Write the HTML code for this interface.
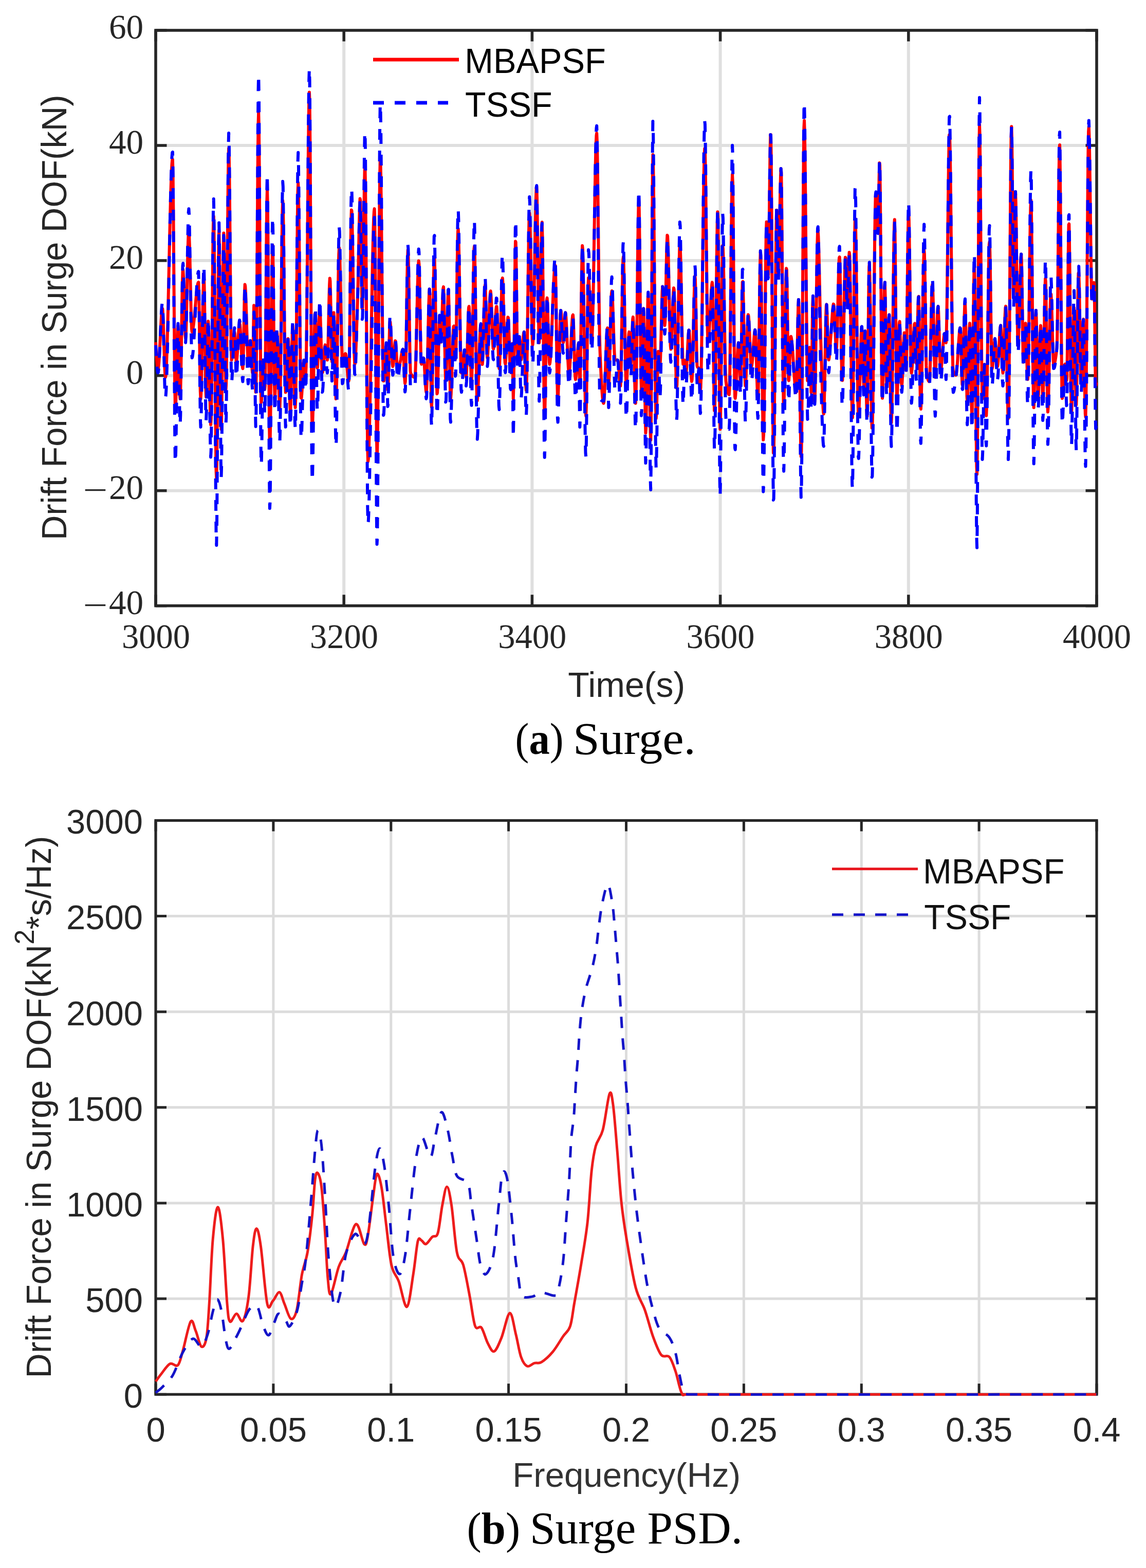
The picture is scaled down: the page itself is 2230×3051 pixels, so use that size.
<!DOCTYPE html><html><head><meta charset="utf-8"><title>Surge drift force</title><style>html,body{margin:0;padding:0;background:#fff;}svg{display:block;}</style></head><body>
<svg width="2230" height="3051" viewBox="0 0 2230 3051">
<rect width="2230" height="3051" fill="#fff"/>
<path d="M669.2 59.0V1178.7M1035.4 59.0V1178.7M1401.6 59.0V1178.7M1767.8 59.0V1178.7M303.0 282.9H2134.0M303.0 506.9H2134.0M303.0 730.8H2134.0M303.0 954.8H2134.0" stroke="#dfdfdf" stroke-width="6" fill="none"/>
<path d="M303.0 1178.7v-21.5M303.0 59.0v21.5M669.2 1178.7v-21.5M669.2 59.0v21.5M1035.4 1178.7v-21.5M1035.4 59.0v21.5M1401.6 1178.7v-21.5M1401.6 59.0v21.5M1767.8 1178.7v-21.5M1767.8 59.0v21.5M2134.0 1178.7v-21.5M2134.0 59.0v21.5M303.0 1178.7h21.5M2134.0 1178.7h-21.5M303.0 954.8h21.5M2134.0 954.8h-21.5M303.0 730.8h21.5M2134.0 730.8h-21.5M303.0 506.9h21.5M2134.0 506.9h-21.5M303.0 282.9h21.5M2134.0 282.9h-21.5M303.0 59.0h21.5M2134.0 59.0h-21.5" stroke="#262626" stroke-width="5.5" fill="none"/>
<rect x="303.0" y="59.0" width="1831.0" height="1119.7" stroke="#262626" stroke-width="5.6" fill="none"/>
<defs><clipPath id="clipA"><rect x="300.0" y="56.0" width="1837.0" height="1125.7"/></clipPath></defs>
<g clip-path="url(#clipA)">
<path d="M303.0 665.9 303.7 679.6 304.4 691.5 305.1 701.3 305.8 708.9 306.5 714.2 307.2 717.0 307.9 716.9 308.6 712.6 309.3 704.5 310.0 693.6 310.7 680.7 311.4 666.4 312.1 651.8 312.8 637.5 313.5 624.4 314.2 613.3 314.9 605.0 315.6 600.3 316.3 600.7 317.0 610.2 317.7 627.1 318.4 648.9 319.1 672.7 319.8 695.8 320.5 715.6 321.2 729.3 321.9 734.2 322.6 730.9 323.3 721.7 324.0 707.4 324.7 688.6 325.4 666.0 326.1 640.2 326.8 611.8 327.5 581.5 328.2 550.1 328.9 518.0 329.6 486.0 330.3 454.8 331.0 424.9 331.7 397.1 332.4 371.9 333.1 350.1 333.8 332.3 334.5 319.2 335.2 311.3 335.9 310.3 336.6 340.4 337.3 403.7 338.0 487.9 338.7 580.9 339.4 670.2 340.1 743.6 340.8 788.8 341.5 796.0 342.2 781.4 342.9 755.3 343.6 722.7 344.3 689.0 345.0 659.4 345.7 639.2 346.4 633.6 347.1 647.5 347.8 675.9 348.5 710.9 349.2 744.5 349.9 768.8 350.6 776.0 351.3 761.1 352.0 728.8 352.7 685.5 353.4 637.5 354.1 591.2 354.8 552.8 355.5 528.8 356.2 524.8 356.9 536.3 357.6 557.5 358.3 584.1 359.0 611.8 359.7 636.3 360.4 653.2 361.1 658.3 361.8 649.2 362.5 628.5 363.2 599.7 363.9 566.1 364.6 531.3 365.3 498.6 366.0 471.6 366.7 453.7 367.4 448.3 368.1 456.6 368.8 476.0 369.5 503.0 370.2 534.5 370.9 567.2 371.6 598.0 372.3 623.5 373.0 640.5 373.7 645.9 374.4 644.8 375.1 642.2 375.8 638.2 376.5 633.1 377.2 627.0 377.9 620.1 378.6 612.6 379.3 604.7 380.0 596.7 380.7 588.7 381.4 580.9 382.1 573.5 382.8 566.8 383.5 560.8 384.2 555.9 384.9 552.2 385.6 549.8 386.3 549.2 387.0 568.5 387.7 612.0 388.4 667.0 389.1 721.1 389.8 761.7 390.5 776.2 391.2 766.9 391.9 744.1 392.6 711.8 393.3 673.7 394.0 634.0 394.7 596.5 395.4 565.1 396.1 543.8 396.8 536.6 397.5 555.8 398.2 600.4 398.9 657.3 399.6 713.6 400.3 756.2 401.0 772.1 401.7 760.2 402.4 732.5 403.1 696.9 403.8 661.7 404.5 635.0 405.2 624.9 405.9 636.1 406.6 664.0 407.3 702.1 408.0 743.8 408.7 782.7 409.4 812.4 410.1 826.4 410.8 814.2 411.5 770.7 412.2 706.0 412.9 630.2 413.6 553.6 414.3 486.3 415.0 438.7 415.7 420.8 416.4 444.3 417.1 505.0 417.8 590.1 418.5 686.7 419.2 781.9 419.9 862.9 420.6 916.9 421.3 930.9 422.0 896.3 422.7 824.5 423.4 730.9 424.1 631.0 424.8 540.2 425.5 474.1 426.2 448.1 426.9 476.0 427.6 547.0 428.3 639.9 429.0 733.1 429.7 805.3 430.4 835.2 431.1 816.0 431.8 764.7 432.5 693.4 433.2 614.4 433.9 539.9 434.6 482.2 435.3 453.5 436.0 466.0 436.7 516.2 437.4 587.5 438.1 662.9 438.8 725.4 439.5 758.0 440.2 747.1 440.9 698.9 441.6 625.1 442.3 537.6 443.0 448.4 443.7 369.2 444.4 311.9 445.1 288.4 445.8 304.8 446.5 352.0 447.2 419.6 447.9 497.2 448.6 574.4 449.3 640.9 450.0 686.3 450.7 700.5 451.4 697.9 452.1 691.8 452.8 683.5 453.5 674.0 454.2 664.4 454.9 655.8 455.6 649.3 456.3 646.1 457.0 649.4 457.7 663.0 458.4 681.0 459.1 697.0 459.8 704.7 460.5 702.6 461.2 696.0 461.9 686.2 462.6 674.4 463.3 661.9 464.0 649.8 464.7 639.5 465.4 632.2 466.1 629.1 466.8 631.5 467.5 639.1 468.2 650.5 468.9 664.2 469.6 678.9 470.3 692.9 471.0 705.0 471.7 713.6 472.4 717.3 473.1 707.9 473.8 679.4 474.5 640.6 475.2 600.7 475.9 568.6 476.6 553.6 477.3 557.1 478.0 569.6 478.7 588.5 479.4 611.3 480.1 635.7 480.8 659.2 481.5 679.5 482.2 694.0 482.9 700.4 483.6 698.5 484.3 692.0 485.0 683.1 485.7 673.8 486.4 666.4 487.1 662.8 487.8 666.1 488.5 676.8 489.2 691.7 489.9 707.1 490.6 719.6 491.3 725.7 492.0 712.1 492.7 671.5 493.4 624.9 494.1 594.2 494.8 599.2 495.5 637.0 496.2 689.3 496.9 737.5 497.6 762.9 498.3 747.0 499.0 688.7 499.7 601.7 500.4 499.6 501.1 396.4 501.8 305.6 502.5 241.2 503.2 216.8 503.9 246.7 504.6 323.9 505.3 430.3 506.0 547.5 506.7 657.6 507.4 742.2 508.1 783.3 508.8 780.7 509.5 766.7 510.2 747.1 510.9 726.5 511.6 709.5 512.3 700.9 513.0 705.9 513.7 723.3 514.4 743.8 515.1 757.8 515.8 751.0 516.5 702.9 517.2 626.4 517.9 538.2 518.6 454.8 519.3 392.6 520.0 368.2 520.7 394.6 521.4 463.2 522.1 557.6 522.8 661.8 523.5 759.7 524.2 835.1 524.9 871.8 525.6 861.8 526.3 820.4 527.0 757.9 527.7 684.3 528.4 609.5 529.1 543.5 529.8 496.2 530.5 477.6 531.2 498.6 531.9 553.2 532.6 624.7 533.3 696.7 534.0 752.8 534.7 776.3 535.4 767.3 536.1 743.6 536.8 712.4 537.5 680.9 538.2 656.3 538.9 645.9 539.6 651.9 540.3 668.9 541.0 693.1 541.7 720.9 542.4 748.4 543.1 772.1 543.8 788.2 544.5 792.8 545.2 772.8 545.9 727.9 546.6 666.2 547.3 595.9 548.0 525.0 548.7 461.7 549.4 414.1 550.1 390.5 550.8 398.4 551.5 436.1 552.2 494.3 552.9 563.6 553.6 634.7 554.3 697.9 555.0 744.0 555.7 763.5 556.4 759.0 557.1 745.4 557.8 726.0 558.5 704.3 559.2 683.7 559.9 667.5 560.6 659.0 561.3 663.9 562.0 686.4 562.7 719.3 563.4 754.5 564.1 784.2 564.8 800.5 565.5 796.4 566.2 774.1 566.9 740.5 567.6 702.7 568.3 667.5 569.0 642.1 569.7 633.3 570.4 643.0 571.1 665.5 571.8 695.9 572.5 728.9 573.2 759.5 573.9 782.6 574.6 793.0 575.3 778.0 576.0 729.9 576.7 659.4 577.4 577.4 578.1 495.0 578.8 423.3 579.5 373.2 580.2 355.6 580.9 373.9 581.6 418.7 582.3 481.9 583.0 554.7 583.7 628.8 584.4 695.8 585.1 747.0 585.8 774.1 586.5 774.8 587.2 767.6 587.9 756.2 588.6 742.2 589.3 727.8 590.0 714.8 590.7 705.1 591.4 700.7 592.1 702.9 592.8 710.1 593.5 719.2 594.2 726.9 594.9 730.0 595.6 714.6 596.3 673.8 597.0 613.9 597.7 541.0 598.4 461.4 599.1 381.3 599.8 306.8 600.5 244.3 601.2 199.7 601.9 179.5 602.6 198.4 603.3 267.8 604.0 372.0 604.7 494.3 605.4 618.3 606.1 727.5 606.8 805.3 607.5 835.2 608.2 826.5 608.9 803.0 609.6 769.4 610.3 730.3 611.0 690.2 611.7 653.6 612.4 625.3 613.1 609.7 613.8 610.9 614.5 626.7 615.2 651.1 615.9 678.2 616.6 701.7 617.3 715.8 618.0 714.9 618.7 700.6 619.4 677.9 620.1 651.5 620.8 626.4 621.5 607.5 622.2 599.6 622.9 605.7 623.6 622.4 624.3 645.9 625.0 671.9 625.7 696.5 626.4 715.7 627.1 725.3 627.8 724.4 628.5 718.8 629.2 710.3 629.9 700.1 630.6 689.8 631.3 680.6 632.0 673.9 632.7 671.1 633.4 673.0 634.1 678.3 634.8 685.3 635.5 692.4 636.2 698.1 636.9 700.5 637.6 693.4 638.3 672.5 639.0 643.1 639.7 610.1 640.4 578.8 641.1 554.2 641.8 541.4 642.5 547.0 643.2 573.0 643.9 610.7 644.6 651.1 645.3 685.1 646.0 703.6 646.7 699.2 647.4 677.0 648.1 647.5 648.8 621.0 649.5 608.2 650.2 618.0 650.9 647.6 651.6 687.4 652.3 728.3 653.0 761.0 653.7 776.1 654.4 768.4 655.1 743.1 655.8 705.2 656.5 659.5 657.2 610.7 657.9 563.7 658.6 523.4 659.3 494.6 660.0 482.0 660.7 487.5 661.4 506.1 662.1 534.1 662.8 568.1 663.5 604.3 664.2 639.2 664.9 669.2 665.6 690.8 666.3 700.4 667.0 700.2 667.7 699.0 668.4 697.2 669.1 695.0 669.8 692.8 670.5 690.7 671.2 689.1 671.9 688.1 672.6 688.3 673.3 691.7 674.0 697.8 674.7 705.7 675.4 714.7 676.1 723.6 676.8 731.8 677.5 738.2 678.2 742.0 678.9 739.8 679.6 713.2 680.3 665.6 681.0 605.4 681.7 541.1 682.4 481.2 683.1 434.2 683.8 408.5 684.5 410.1 685.2 431.6 685.9 467.6 686.6 512.9 687.3 562.7 688.0 612.0 688.7 655.8 689.4 689.2 690.1 707.2 690.8 707.7 691.5 700.6 692.2 688.2 692.9 671.6 693.6 652.0 694.3 630.7 695.0 608.7 695.7 587.2 696.4 563.6 697.1 531.9 697.8 495.8 698.5 459.2 699.2 426.2 699.9 400.6 700.6 386.6 701.3 390.6 702.0 422.1 702.7 470.9 703.4 525.0 704.1 572.2 704.8 600.5 705.5 599.0 706.2 569.9 706.9 522.4 707.6 465.5 708.3 408.2 709.0 359.5 709.7 328.4 710.4 324.8 711.1 361.6 711.8 431.6 712.5 523.2 713.2 624.7 713.9 724.6 714.6 811.2 715.3 872.9 716.0 898.2 716.7 894.5 717.4 882.5 718.1 863.4 718.8 838.2 719.5 807.8 720.2 773.4 720.9 735.8 721.6 696.2 722.3 655.5 723.0 614.6 723.7 574.7 724.4 536.8 725.1 501.8 725.8 470.7 726.5 444.6 727.2 424.5 727.9 411.3 728.6 406.1 729.3 427.0 730.0 489.5 730.7 578.3 731.4 678.0 732.1 773.0 732.8 848.0 733.5 887.3 734.2 880.0 734.9 835.7 735.6 764.5 736.3 676.0 737.0 579.8 737.7 485.6 738.4 403.0 739.1 341.6 739.8 311.0 740.5 317.0 741.2 350.4 741.9 403.5 742.6 469.4 743.3 540.9 744.0 610.9 744.7 672.4 745.4 718.2 746.1 741.2 746.8 741.2 747.5 735.0 748.2 725.2 748.9 713.6 749.6 701.6 750.3 690.9 751.0 683.0 751.7 679.6 752.4 688.7 753.1 713.3 753.8 740.8 754.5 758.1 755.2 754.7 755.9 733.8 756.6 703.0 757.3 669.9 758.0 641.7 758.7 626.0 759.4 626.7 760.1 635.2 760.8 648.7 761.5 665.0 762.2 681.8 762.9 696.9 763.6 708.1 764.3 713.1 765.0 711.2 765.7 704.9 766.4 695.7 767.1 685.3 767.8 675.3 768.5 667.4 769.2 663.1 769.9 664.6 770.6 673.5 771.3 686.9 772.0 701.4 772.7 713.9 773.4 721.0 774.1 721.4 774.8 720.2 775.5 718.2 776.2 715.5 776.9 712.6 777.6 709.4 778.3 706.4 779.0 703.5 779.7 700.0 780.4 695.9 781.1 691.6 781.8 687.4 782.5 683.8 783.2 681.1 783.9 679.7 784.6 681.5 785.3 691.4 786.0 706.6 786.7 723.2 787.4 737.6 788.1 746.0 788.8 742.5 789.5 718.5 790.2 679.4 790.9 631.8 791.6 582.1 792.3 536.9 793.0 502.9 793.7 486.6 794.4 493.8 795.1 522.4 795.8 564.8 796.5 613.5 797.2 661.1 797.9 700.0 798.6 722.8 799.3 726.6 800.0 728.0 800.7 729.2 801.4 730.2 802.1 731.1 802.8 731.9 803.5 732.6 804.2 733.2 804.9 733.6 805.6 733.9 806.3 734.1 807.0 734.2 807.7 732.5 808.4 721.5 809.1 702.2 809.8 676.8 810.5 647.3 811.2 616.0 811.9 585.1 812.6 556.6 813.3 532.7 814.0 515.6 814.7 507.4 815.4 512.9 816.1 536.5 816.8 572.2 817.5 613.5 818.2 653.9 818.9 687.1 819.6 706.5 820.3 708.7 821.0 707.0 821.7 704.2 822.4 701.0 823.1 698.3 823.8 696.6 824.5 697.2 825.2 703.0 825.9 712.8 826.6 725.0 827.3 737.8 828.0 749.6 828.7 758.7 829.4 763.4 830.1 760.2 830.8 744.8 831.5 720.1 832.2 689.5 832.9 656.2 833.6 623.5 834.3 594.8 835.0 573.3 835.7 562.4 836.4 572.0 837.1 615.2 837.8 676.3 838.5 737.7 839.2 781.8 839.9 792.0 840.6 772.1 841.3 732.6 842.0 681.1 842.7 624.9 843.4 571.5 844.1 528.3 844.8 502.6 845.5 501.4 846.2 523.5 846.9 562.1 847.6 610.5 848.3 661.9 849.0 709.5 849.7 746.6 850.4 766.3 851.1 764.3 851.8 747.1 852.5 720.2 853.2 688.6 853.9 657.1 854.6 630.9 855.3 614.9 856.0 615.4 856.7 637.9 857.4 661.8 858.1 665.8 858.8 655.6 859.5 637.9 860.2 616.1 860.9 593.7 861.6 574.2 862.3 561.1 863.0 558.1 863.7 574.2 864.4 606.2 865.1 646.6 865.8 687.6 866.5 721.6 867.2 740.8 867.9 738.9 868.6 719.6 869.3 688.6 870.0 652.0 870.7 615.3 871.4 584.5 872.1 565.3 872.8 564.5 873.5 591.2 874.2 637.1 874.9 690.0 875.6 738.3 876.3 770.1 877.0 775.5 877.7 767.1 878.4 751.5 879.1 730.8 879.8 707.6 880.5 684.0 881.2 662.6 881.9 645.5 882.6 635.2 883.3 634.4 884.0 646.6 884.7 666.3 885.4 686.2 886.1 699.0 886.8 696.1 887.5 669.5 888.2 626.2 888.9 574.3 889.6 522.2 890.3 477.9 891.0 449.7 891.7 445.2 892.4 461.1 893.1 491.6 893.8 532.0 894.5 577.7 895.2 624.2 895.9 666.7 896.6 700.7 897.3 721.5 898.0 725.6 898.7 723.3 899.4 718.8 900.1 712.8 900.8 705.9 901.5 699.0 902.2 692.6 902.9 687.6 903.6 684.4 904.3 684.6 905.0 695.6 905.7 713.0 906.4 728.5 907.1 734.1 907.8 726.5 908.5 709.1 909.2 685.5 909.9 659.2 910.6 633.5 911.3 612.2 912.0 598.5 912.7 596.2 913.4 608.1 914.1 630.9 914.8 659.8 915.5 690.2 916.2 717.2 916.9 736.2 917.6 742.5 918.3 728.5 919.0 695.8 919.7 650.9 920.4 600.6 921.1 551.6 921.8 510.5 922.5 483.9 923.2 478.7 923.9 499.3 924.6 539.9 925.3 592.9 926.0 650.7 926.7 705.6 927.4 750.1 928.1 776.5 928.8 779.6 929.5 772.1 930.2 758.6 930.9 740.6 931.6 719.8 932.3 698.0 933.0 676.7 933.7 657.8 934.4 642.8 935.1 633.4 935.8 631.9 936.5 647.7 937.2 674.1 937.9 698.7 938.6 709.0 939.3 701.4 940.0 682.6 940.7 656.5 941.4 627.1 942.1 598.1 942.8 573.7 943.5 557.6 944.2 553.9 944.9 568.9 945.6 597.8 946.3 632.9 947.0 666.2 947.7 689.8 948.4 696.1 949.1 689.8 949.8 676.5 950.5 658.3 951.2 637.4 951.9 615.8 952.6 595.8 953.3 579.4 954.0 568.8 954.7 566.2 955.4 573.3 956.1 588.2 956.8 607.9 957.5 629.7 958.2 650.5 958.9 667.5 959.6 677.8 960.3 679.0 961.0 673.9 961.7 664.5 962.4 652.3 963.1 638.6 963.8 624.7 964.5 612.2 965.2 602.3 965.9 596.4 966.6 596.5 967.3 607.6 968.0 627.2 968.7 651.5 969.4 676.5 970.1 698.4 970.8 713.2 971.5 717.1 972.2 708.8 972.9 690.9 973.6 666.4 974.3 638.0 975.0 608.8 975.7 581.6 976.4 559.3 977.1 544.8 977.8 541.0 978.5 551.2 979.2 572.9 979.9 601.8 980.6 633.9 981.3 664.7 982.0 690.1 982.7 705.9 983.4 708.4 984.1 701.4 984.8 688.5 985.5 672.1 986.2 654.4 986.9 637.9 987.6 624.7 988.3 617.3 989.0 618.3 989.7 629.6 990.4 648.0 991.1 670.1 991.8 692.3 992.5 711.2 993.2 723.3 993.9 724.9 994.6 714.5 995.3 697.4 996.0 679.9 996.7 668.4 997.4 681.0 998.1 744.1 998.8 775.9 999.5 751.8 1000.2 699.7 1000.9 632.5 1001.6 563.1 1002.3 504.5 1003.0 469.5 1003.7 471.1 1004.4 509.8 1005.1 569.2 1005.8 631.7 1006.5 679.9 1007.2 696.3 1007.9 690.6 1008.6 679.1 1009.3 666.2 1010.0 656.6 1010.7 654.8 1011.4 662.7 1012.1 676.1 1012.8 689.9 1013.5 699.2 1014.2 700.0 1014.9 696.0 1015.6 688.9 1016.3 680.0 1017.0 670.4 1017.7 661.0 1018.4 653.1 1019.1 647.7 1019.8 645.9 1020.5 655.7 1021.2 677.4 1021.9 705.0 1022.6 732.0 1023.3 752.2 1024.0 759.4 1024.7 745.9 1025.4 713.0 1026.1 666.3 1026.8 611.6 1027.5 554.5 1028.2 500.5 1028.9 455.5 1029.6 424.9 1030.3 414.5 1031.0 424.3 1031.7 448.6 1032.4 483.2 1033.1 523.8 1033.8 566.4 1034.5 606.5 1035.2 640.2 1035.9 663.1 1036.6 671.1 1037.3 663.0 1038.0 642.1 1038.7 611.3 1039.4 573.7 1040.1 532.0 1040.8 489.3 1041.5 448.4 1042.2 412.4 1042.9 384.0 1043.6 366.4 1044.3 362.8 1045.0 385.5 1045.7 431.3 1046.4 490.6 1047.1 553.5 1047.8 610.4 1048.5 651.5 1049.2 666.9 1049.9 656.0 1050.6 627.9 1051.3 588.6 1052.0 544.1 1052.7 500.2 1053.4 462.9 1054.1 438.2 1054.8 432.2 1055.5 459.5 1056.2 515.8 1056.9 589.1 1057.6 667.3 1058.3 738.2 1059.0 789.8 1059.7 809.9 1060.4 795.9 1061.1 759.6 1061.8 710.7 1062.5 658.7 1063.2 613.4 1063.9 584.3 1064.6 579.6 1065.3 591.1 1066.0 611.8 1066.7 637.7 1067.4 664.5 1068.1 688.0 1068.8 704.2 1069.5 708.9 1070.2 705.9 1070.9 698.8 1071.6 688.3 1072.3 675.0 1073.0 659.5 1073.7 642.3 1074.4 624.1 1075.1 605.6 1075.8 587.3 1076.5 569.8 1077.2 553.7 1077.9 539.7 1078.6 528.3 1079.3 520.2 1080.0 515.9 1080.7 519.7 1081.4 546.2 1082.1 589.9 1082.8 642.5 1083.5 695.6 1084.2 740.9 1084.9 770.0 1085.6 775.5 1086.3 764.7 1087.0 743.9 1087.7 716.6 1088.4 686.2 1089.1 656.3 1089.8 630.3 1090.5 611.6 1091.2 603.9 1091.9 607.1 1092.6 616.6 1093.3 629.8 1094.0 644.0 1094.7 656.6 1095.4 665.0 1096.1 666.5 1096.8 659.8 1097.5 647.5 1098.2 633.0 1098.9 619.5 1099.6 610.2 1100.3 608.3 1101.0 613.2 1101.7 623.2 1102.4 636.9 1103.1 653.0 1103.8 670.2 1104.5 687.1 1105.2 702.4 1105.9 714.9 1106.6 723.1 1107.3 725.8 1108.0 722.6 1108.7 714.8 1109.4 703.4 1110.1 689.5 1110.8 674.2 1111.5 658.5 1112.2 643.5 1112.9 630.4 1113.6 620.1 1114.3 613.7 1115.0 612.7 1115.7 622.4 1116.4 641.7 1117.1 666.3 1117.8 692.3 1118.5 715.7 1119.2 732.4 1119.9 738.4 1120.6 735.7 1121.3 729.0 1122.0 719.4 1122.7 708.1 1123.4 696.2 1124.1 685.0 1124.8 675.6 1125.5 669.2 1126.2 666.9 1126.9 690.0 1127.6 730.4 1128.3 751.0 1129.0 735.9 1129.7 698.3 1130.4 646.8 1131.1 590.3 1131.8 537.6 1132.5 497.2 1133.2 478.1 1133.9 484.4 1134.6 508.7 1135.3 546.5 1136.0 593.1 1136.7 644.3 1137.4 695.3 1138.1 741.9 1138.8 779.4 1139.5 803.5 1140.2 809.3 1140.9 790.0 1141.6 750.0 1142.3 697.9 1143.0 642.3 1143.7 591.8 1144.4 555.1 1145.1 540.7 1145.8 544.8 1146.5 555.9 1147.2 572.1 1147.9 591.2 1148.6 611.4 1149.3 630.7 1150.0 647.0 1150.7 658.3 1151.4 662.7 1152.1 657.0 1152.8 640.3 1153.5 614.6 1154.2 581.7 1154.9 543.4 1155.6 501.6 1156.3 458.0 1157.0 414.5 1157.7 373.0 1158.4 335.3 1159.1 303.2 1159.8 278.6 1160.5 263.2 1161.2 259.1 1161.9 275.5 1162.6 312.6 1163.3 364.9 1164.0 426.7 1164.7 492.4 1165.4 556.4 1166.1 613.0 1166.8 656.6 1167.5 681.9 1168.2 698.5 1168.9 714.3 1169.6 728.9 1170.3 742.3 1171.0 754.3 1171.7 764.5 1172.4 772.9 1173.1 779.2 1173.8 783.2 1174.5 784.7 1175.2 781.7 1175.9 772.4 1176.6 758.2 1177.3 740.5 1178.0 720.7 1178.7 700.3 1179.4 680.6 1180.1 663.1 1180.8 649.1 1181.5 640.1 1182.2 638.2 1182.9 674.0 1183.6 728.1 1184.3 750.9 1185.0 743.0 1185.7 724.9 1186.4 699.5 1187.1 670.0 1187.8 639.4 1188.5 610.6 1189.2 586.8 1189.9 570.9 1190.6 566.0 1191.3 571.6 1192.0 584.7 1192.7 603.1 1193.4 624.5 1194.1 646.8 1194.8 667.8 1195.5 685.2 1196.2 696.8 1196.9 700.6 1197.6 700.6 1198.3 700.6 1199.0 700.6 1199.7 700.6 1200.4 700.6 1201.1 700.6 1201.8 700.6 1202.5 702.4 1203.2 708.0 1203.9 716.2 1204.6 725.7 1205.3 735.1 1206.0 743.4 1206.7 749.1 1207.4 751.0 1208.1 738.0 1208.8 707.0 1209.5 664.4 1210.2 616.5 1210.9 569.8 1211.6 530.4 1212.3 504.9 1213.0 499.4 1213.7 514.0 1214.4 543.7 1215.1 583.2 1215.8 627.5 1216.5 671.4 1217.2 710.1 1217.9 738.2 1218.6 750.8 1219.3 747.6 1220.0 736.1 1220.7 719.3 1221.4 699.6 1222.1 679.8 1222.8 662.4 1223.5 650.3 1224.2 645.9 1224.9 653.4 1225.6 670.3 1226.3 689.6 1227.0 704.6 1227.7 708.6 1228.4 698.9 1229.1 680.2 1229.8 657.5 1230.5 636.0 1231.2 620.7 1231.9 616.9 1232.6 629.2 1233.3 654.4 1234.0 687.1 1234.7 721.9 1235.4 753.3 1236.1 776.0 1236.8 784.7 1237.5 771.0 1238.2 734.6 1238.9 682.0 1239.6 619.7 1240.3 554.2 1241.0 491.9 1241.7 439.3 1242.4 402.9 1243.1 389.2 1243.8 408.4 1244.5 458.5 1245.2 527.6 1245.9 604.1 1246.6 675.9 1247.3 731.3 1248.0 758.5 1248.7 752.1 1249.4 725.7 1250.1 688.4 1250.8 649.2 1251.5 616.9 1252.2 600.3 1252.9 610.6 1253.6 650.7 1254.3 707.4 1255.0 767.3 1255.7 816.8 1256.4 842.5 1257.1 833.6 1257.8 795.7 1258.5 740.3 1259.2 678.8 1259.9 622.4 1260.6 582.5 1261.3 570.5 1262.0 589.7 1262.7 631.3 1263.4 686.2 1264.1 745.3 1264.8 799.5 1265.5 839.4 1266.2 856.2 1266.9 819.8 1267.6 720.2 1268.3 587.8 1269.0 453.4 1269.7 347.6 1270.4 301.1 1271.1 316.1 1271.8 361.3 1272.5 428.2 1273.2 508.3 1273.9 593.4 1274.6 674.9 1275.3 744.4 1276.0 793.6 1276.7 814.0 1277.4 806.0 1278.1 782.9 1278.8 751.9 1279.5 720.3 1280.2 695.2 1280.9 683.8 1281.6 686.1 1282.3 692.5 1283.0 700.2 1283.7 706.6 1284.4 708.9 1285.1 699.6 1285.8 678.1 1286.5 649.2 1287.2 617.9 1287.9 589.0 1288.6 567.3 1289.3 557.6 1290.0 562.0 1290.7 575.2 1291.4 593.1 1292.1 611.5 1292.8 626.3 1293.5 633.2 1294.2 626.1 1294.9 603.7 1295.6 571.5 1296.3 535.1 1297.0 500.2 1297.7 472.6 1298.4 457.7 1299.1 459.6 1299.8 474.2 1300.5 498.3 1301.2 528.9 1301.9 563.0 1302.6 597.4 1303.3 629.3 1304.0 655.6 1304.7 673.4 1305.4 679.5 1306.1 674.4 1306.8 661.7 1307.5 643.8 1308.2 623.0 1308.9 601.9 1309.6 582.8 1310.3 568.1 1311.0 560.3 1311.7 563.3 1312.4 581.7 1313.1 611.3 1313.8 647.1 1314.5 684.4 1315.2 718.0 1315.9 743.2 1316.6 754.9 1317.3 748.7 1318.0 725.5 1318.7 689.8 1319.4 646.4 1320.1 599.8 1320.8 554.6 1321.5 515.4 1322.2 487.0 1322.9 473.8 1323.6 478.7 1324.3 497.9 1325.0 527.6 1325.7 563.8 1326.4 602.8 1327.1 640.6 1327.8 673.4 1328.5 697.4 1329.2 708.6 1329.9 708.2 1330.6 705.7 1331.3 702.8 1332.0 700.8 1332.7 702.3 1333.4 710.9 1334.1 720.9 1334.8 725.8 1335.5 722.7 1336.2 714.1 1336.9 701.7 1337.6 687.2 1338.3 672.3 1339.0 658.8 1339.7 648.2 1340.4 642.3 1341.1 643.2 1341.8 652.2 1342.5 667.1 1343.2 685.5 1343.9 704.7 1344.6 722.3 1345.3 735.7 1346.0 742.3 1346.7 738.6 1347.4 722.4 1348.1 696.8 1348.8 665.3 1349.5 631.3 1350.2 598.1 1350.9 569.0 1351.6 547.5 1352.3 537.0 1353.0 543.6 1353.7 571.5 1354.4 611.8 1355.1 654.9 1355.8 691.4 1356.5 711.7 1357.2 714.1 1357.9 714.9 1358.6 715.4 1359.3 716.1 1360.0 717.3 1360.7 723.4 1361.4 736.6 1362.1 750.5 1362.8 758.9 1363.5 754.7 1364.2 733.6 1364.9 698.5 1365.6 652.6 1366.3 599.2 1367.0 541.6 1367.7 483.0 1368.4 426.6 1369.1 375.8 1369.8 333.8 1370.5 303.9 1371.2 289.2 1371.9 294.6 1372.6 323.2 1373.3 369.2 1374.0 426.6 1374.7 489.0 1375.4 550.3 1376.1 604.3 1376.8 644.7 1377.5 665.5 1378.2 665.8 1378.9 660.7 1379.6 652.0 1380.3 640.6 1381.0 627.3 1381.7 612.9 1382.4 598.3 1383.1 584.2 1383.8 571.4 1384.5 560.8 1385.2 553.2 1385.9 549.4 1386.6 557.4 1387.3 595.9 1388.0 653.3 1388.7 715.6 1389.4 768.8 1390.1 799.0 1390.8 795.8 1391.5 767.2 1392.2 720.3 1392.9 661.4 1393.6 597.0 1394.3 533.5 1395.0 477.2 1395.7 434.7 1396.4 412.2 1397.1 421.2 1397.8 475.6 1398.5 559.8 1399.2 655.7 1399.9 745.6 1400.6 811.3 1401.3 835.1 1402.0 814.5 1402.7 764.7 1403.4 697.1 1404.1 623.2 1404.8 554.5 1405.5 502.3 1406.2 478.1 1406.9 483.7 1407.6 504.7 1408.3 536.9 1409.0 576.2 1409.7 618.7 1410.4 660.4 1411.1 697.5 1411.8 725.8 1412.5 741.5 1413.2 746.7 1413.9 751.3 1414.6 755.3 1415.3 758.9 1416.0 761.9 1416.7 764.4 1417.4 766.2 1418.1 767.4 1418.8 767.9 1419.5 758.1 1420.2 722.8 1420.9 668.7 1421.6 602.6 1422.3 531.6 1423.0 462.8 1423.7 403.1 1424.4 359.6 1425.1 339.4 1425.8 353.6 1426.5 406.7 1427.2 485.2 1427.9 574.9 1428.6 662.0 1429.3 732.4 1430.0 772.1 1430.7 775.1 1431.4 768.4 1432.1 756.8 1432.8 742.0 1433.5 725.4 1434.2 708.5 1434.9 692.7 1435.6 679.5 1436.3 670.4 1437.0 666.9 1437.7 672.8 1438.4 688.1 1439.1 708.2 1439.8 728.5 1440.5 744.4 1441.2 751.0 1441.9 733.9 1442.6 689.5 1443.3 633.4 1444.0 581.4 1444.7 548.9 1445.4 547.8 1446.1 566.0 1446.8 596.5 1447.5 633.9 1448.2 673.2 1448.9 709.2 1449.6 736.6 1450.3 750.4 1451.0 747.6 1451.7 733.5 1452.4 711.9 1453.1 686.1 1453.8 659.8 1454.5 636.4 1455.2 619.4 1455.9 612.3 1456.6 615.2 1457.3 624.1 1458.0 637.2 1458.7 653.0 1459.4 669.7 1460.1 685.7 1460.8 699.4 1461.5 709.1 1462.2 713.2 1462.9 711.6 1463.6 706.6 1464.3 699.1 1465.0 689.8 1465.7 679.5 1466.4 669.1 1467.1 659.3 1467.8 651.0 1468.5 644.9 1469.2 641.9 1469.9 644.7 1470.6 657.9 1471.3 678.6 1472.0 703.5 1472.7 729.0 1473.4 751.9 1474.1 768.8 1474.8 776.2 1475.5 764.6 1476.2 728.1 1476.9 675.9 1477.6 617.0 1478.3 560.6 1479.0 515.9 1479.7 492.0 1480.4 497.8 1481.1 533.1 1481.8 589.1 1482.5 656.5 1483.2 726.0 1483.9 788.6 1484.6 834.9 1485.3 855.8 1486.0 845.5 1486.7 809.7 1487.4 755.4 1488.1 689.6 1488.8 619.3 1489.5 551.4 1490.2 492.8 1490.9 450.6 1491.6 431.7 1492.3 442.6 1493.0 475.8 1493.7 513.5 1494.4 538.3 1495.1 534.5 1495.8 503.6 1496.5 454.8 1497.2 397.1 1497.9 339.7 1498.6 291.6 1499.3 261.9 1500.0 262.0 1500.7 311.6 1501.4 400.4 1502.1 512.8 1502.8 632.9 1503.5 744.9 1504.2 832.9 1504.9 881.1 1505.6 879.4 1506.3 845.4 1507.0 788.5 1507.7 716.7 1508.4 637.9 1509.1 559.8 1509.8 490.4 1510.5 437.5 1511.2 408.9 1511.9 413.3 1512.6 449.4 1513.3 496.4 1514.0 532.9 1514.7 539.2 1515.4 522.8 1516.1 492.9 1516.8 454.7 1517.5 413.8 1518.2 375.4 1518.9 345.0 1519.6 328.0 1520.3 334.5 1521.0 383.1 1521.7 462.0 1522.4 556.4 1523.1 651.3 1523.8 731.7 1524.5 782.8 1525.2 791.4 1525.9 771.1 1526.6 733.3 1527.3 684.9 1528.0 632.6 1528.7 583.6 1529.4 544.5 1530.1 522.3 1530.8 524.9 1531.5 556.4 1532.2 605.9 1532.9 661.0 1533.6 709.5 1534.3 738.9 1535.0 740.6 1535.7 728.2 1536.4 708.7 1537.1 686.8 1537.8 667.6 1538.5 655.8 1539.2 654.7 1539.9 657.5 1540.6 662.5 1541.3 669.5 1542.0 678.1 1542.7 687.8 1543.4 698.3 1544.1 709.1 1544.8 720.0 1545.5 730.5 1546.2 740.1 1546.9 748.7 1547.6 755.6 1548.3 760.6 1549.0 763.3 1549.7 760.7 1550.4 739.9 1551.1 705.5 1551.8 665.1 1552.5 626.2 1553.2 596.3 1553.9 582.9 1554.6 595.7 1555.3 635.1 1556.0 691.3 1556.7 754.6 1557.4 815.0 1558.1 862.8 1558.8 888.1 1559.5 877.7 1560.2 821.8 1560.9 732.5 1561.6 623.1 1562.3 506.6 1563.0 396.4 1563.7 305.7 1564.4 247.7 1565.1 234.7 1565.8 257.7 1566.5 305.1 1567.2 369.9 1567.9 445.3 1568.6 524.4 1569.3 600.3 1570.0 666.3 1570.7 715.4 1571.4 740.7 1572.1 740.4 1572.8 730.2 1573.5 714.9 1574.2 698.3 1574.9 684.1 1575.6 676.0 1576.3 681.1 1577.0 706.6 1577.7 738.9 1578.4 763.3 1579.1 762.2 1579.8 716.4 1580.5 649.9 1581.2 593.5 1581.9 577.8 1582.6 610.2 1583.3 669.0 1584.0 731.9 1584.7 776.3 1585.4 782.6 1586.1 762.3 1586.8 725.0 1587.5 676.2 1588.2 621.4 1588.9 566.1 1589.6 515.8 1590.3 476.1 1591.0 452.4 1591.7 449.1 1592.4 459.4 1593.1 479.0 1593.8 505.6 1594.5 537.1 1595.2 571.1 1595.9 605.3 1596.6 637.5 1597.3 665.5 1598.0 687.8 1598.7 710.5 1599.4 734.0 1600.1 756.6 1600.8 776.7 1601.5 792.7 1602.2 802.9 1602.9 805.4 1603.6 792.6 1604.3 765.1 1605.0 728.2 1605.7 687.4 1606.4 648.0 1607.1 615.5 1607.8 595.2 1608.5 592.3 1609.2 605.5 1609.9 628.6 1610.6 655.6 1611.3 680.4 1612.0 697.0 1612.7 700.3 1613.4 696.4 1614.1 689.3 1614.8 679.9 1615.5 669.8 1616.2 659.9 1616.9 651.5 1617.6 642.0 1618.3 631.5 1619.0 620.7 1619.7 610.5 1620.4 601.7 1621.1 595.1 1621.8 591.6 1622.5 592.5 1623.2 600.4 1623.9 613.5 1624.6 629.6 1625.3 646.4 1626.0 661.8 1626.7 673.5 1627.4 679.3 1628.1 675.4 1628.8 659.2 1629.5 634.1 1630.2 603.6 1630.9 571.6 1631.6 541.5 1632.3 517.0 1633.0 501.8 1633.7 500.0 1634.4 517.7 1635.1 551.2 1635.8 594.3 1636.5 640.8 1637.2 684.8 1637.9 719.9 1638.6 740.1 1639.3 740.2 1640.0 724.0 1640.7 695.9 1641.4 659.8 1642.1 619.9 1642.8 580.0 1643.5 544.1 1644.2 516.4 1644.9 500.7 1645.6 501.7 1646.3 521.3 1647.0 550.3 1647.7 578.1 1648.4 594.3 1649.1 591.4 1649.8 574.8 1650.5 550.7 1651.2 524.8 1651.9 503.0 1652.6 491.0 1653.3 496.5 1654.0 524.3 1654.7 568.6 1655.4 622.7 1656.1 680.2 1656.8 734.5 1657.5 779.1 1658.2 807.4 1658.9 812.7 1659.6 786.1 1660.3 733.7 1661.0 665.2 1661.7 590.6 1662.4 519.6 1663.1 462.2 1663.8 428.1 1664.5 425.9 1665.2 450.3 1665.9 494.0 1666.6 550.6 1667.3 613.8 1668.0 677.3 1668.7 734.7 1669.4 779.6 1670.1 805.8 1670.8 808.7 1671.5 798.0 1672.2 778.6 1672.9 753.4 1673.6 725.3 1674.3 697.0 1675.0 671.4 1675.7 651.2 1676.4 639.4 1677.1 639.2 1677.8 653.8 1678.5 678.3 1679.2 706.4 1679.9 731.8 1680.6 748.1 1681.3 745.1 1682.0 700.5 1682.7 652.3 1683.4 644.1 1684.1 666.1 1684.8 703.1 1685.5 745.7 1686.2 784.4 1686.9 809.5 1687.6 810.1 1688.3 771.9 1689.0 707.0 1689.7 632.1 1690.4 564.1 1691.1 519.7 1691.8 513.7 1692.5 538.8 1693.2 584.3 1693.9 642.0 1694.6 703.9 1695.3 761.7 1696.0 807.3 1696.7 832.6 1697.4 830.8 1698.1 805.4 1698.8 761.8 1699.5 705.2 1700.2 640.8 1700.9 573.7 1701.6 509.0 1702.3 452.0 1703.0 407.8 1703.7 381.6 1704.4 377.5 1705.1 386.7 1705.8 402.7 1706.5 421.4 1707.2 438.5 1707.9 450.0 1708.6 450.1 1709.3 425.2 1710.0 384.8 1710.7 343.6 1711.4 316.9 1712.1 321.3 1712.8 368.7 1713.5 446.5 1714.2 539.9 1714.9 634.0 1715.6 714.2 1716.3 765.4 1717.0 774.8 1717.7 755.6 1718.4 720.0 1719.1 675.2 1719.8 628.4 1720.5 587.0 1721.2 558.2 1721.9 549.5 1722.6 577.3 1723.3 632.9 1724.0 694.4 1724.7 740.1 1725.4 750.2 1726.1 738.8 1726.8 717.1 1727.5 689.8 1728.2 661.2 1728.9 635.8 1729.6 618.0 1730.3 612.4 1731.0 631.1 1731.7 671.8 1732.4 722.9 1733.1 772.8 1733.8 809.8 1734.5 822.4 1735.2 806.3 1735.9 768.2 1736.6 714.4 1737.3 651.6 1738.0 586.1 1738.7 524.4 1739.4 473.1 1740.1 438.5 1740.8 427.3 1741.5 452.2 1742.2 509.4 1742.9 584.3 1743.6 662.3 1744.3 729.1 1745.0 770.0 1745.7 774.4 1746.4 759.9 1747.1 735.0 1747.8 704.7 1748.5 673.7 1749.2 647.0 1749.9 629.3 1750.6 625.5 1751.3 639.2 1752.0 665.0 1752.7 696.0 1753.4 725.2 1754.1 745.7 1754.8 750.7 1755.5 743.8 1756.2 729.9 1756.9 711.5 1757.6 691.5 1758.3 672.4 1759.0 656.8 1759.7 647.4 1760.4 648.2 1761.1 666.4 1761.8 692.7 1762.5 715.0 1763.2 720.7 1763.9 697.8 1764.6 651.5 1765.3 591.8 1766.0 528.4 1766.7 471.2 1767.4 430.0 1768.1 414.5 1768.8 429.0 1769.5 466.2 1770.2 518.1 1770.9 576.9 1771.6 634.9 1772.3 684.2 1773.0 716.8 1773.7 725.7 1774.4 721.1 1775.1 711.2 1775.8 697.8 1776.5 682.3 1777.2 666.2 1777.9 651.4 1778.6 639.2 1779.3 631.2 1780.0 629.4 1780.7 641.4 1781.4 663.7 1782.1 688.0 1782.8 705.4 1783.5 707.4 1784.2 690.8 1784.9 662.2 1785.6 629.0 1786.3 598.6 1787.0 578.4 1787.7 576.8 1788.4 604.0 1789.1 651.3 1789.8 706.3 1790.5 756.8 1791.2 790.4 1791.9 796.0 1792.6 780.3 1793.3 750.1 1794.0 709.7 1794.7 663.1 1795.4 614.8 1796.1 568.7 1796.8 529.2 1797.5 500.5 1798.2 486.6 1798.9 494.2 1799.6 526.0 1800.3 573.1 1801.0 626.0 1801.7 675.4 1802.4 711.9 1803.1 726.4 1803.8 730.2 1804.5 733.6 1805.2 736.5 1805.9 738.8 1806.6 740.6 1807.3 741.8 1808.0 742.5 1808.7 741.8 1809.4 730.0 1810.1 707.3 1810.8 677.3 1811.5 644.0 1812.2 611.1 1812.9 582.5 1813.6 562.0 1814.3 553.4 1815.0 560.1 1815.7 580.5 1816.4 609.9 1817.1 643.9 1817.8 677.9 1818.5 707.3 1819.2 727.5 1819.9 734.2 1820.6 726.8 1821.3 709.6 1822.0 686.1 1822.7 659.7 1823.4 634.0 1824.1 612.5 1824.8 598.7 1825.5 596.0 1826.2 606.0 1826.9 625.4 1827.6 650.1 1828.3 676.1 1829.0 699.4 1829.7 715.9 1830.4 721.6 1831.1 719.6 1831.8 714.7 1832.5 707.6 1833.2 698.8 1833.9 689.2 1834.6 679.3 1835.3 669.9 1836.0 661.6 1836.7 655.1 1837.4 651.1 1838.1 650.3 1838.8 653.7 1839.5 659.5 1840.2 664.8 1840.9 666.8 1841.6 652.5 1842.3 617.7 1843.0 567.9 1843.7 508.6 1844.4 445.3 1845.1 383.6 1845.8 328.8 1846.5 286.6 1847.2 262.4 1847.9 261.6 1848.6 284.4 1849.3 325.9 1850.0 381.0 1850.7 444.7 1851.4 511.8 1852.1 577.4 1852.8 636.1 1853.5 683.1 1854.2 713.2 1854.9 722.1 1855.6 724.0 1856.3 725.6 1857.0 727.0 1857.7 728.1 1858.4 729.0 1859.1 729.6 1859.8 730.0 1860.5 729.7 1861.2 726.4 1861.9 720.1 1862.6 711.6 1863.3 701.5 1864.0 690.3 1864.7 678.8 1865.4 667.6 1866.1 657.2 1866.8 648.4 1867.5 641.8 1868.2 638.1 1868.9 639.0 1869.6 653.4 1870.3 677.8 1871.0 705.9 1871.7 731.4 1872.4 748.0 1873.1 749.5 1873.8 734.7 1874.5 708.4 1875.2 675.8 1875.9 642.1 1876.6 612.6 1877.3 592.6 1878.0 587.6 1878.7 606.9 1879.4 645.6 1880.1 692.9 1880.8 738.2 1881.5 770.8 1882.2 780.2 1882.9 769.6 1883.6 747.2 1884.3 717.9 1885.0 686.7 1885.7 658.2 1886.4 637.4 1887.1 629.1 1887.8 641.8 1888.5 674.8 1889.2 718.1 1889.9 761.7 1890.6 795.7 1891.3 809.9 1892.0 793.0 1892.7 747.4 1893.4 685.4 1894.1 619.3 1894.8 561.2 1895.5 523.4 1896.2 518.3 1896.9 553.2 1897.6 617.4 1898.3 698.1 1899.0 782.0 1899.7 856.2 1900.4 907.5 1901.1 922.8 1901.8 877.8 1902.5 779.0 1903.2 648.3 1903.9 507.5 1904.6 378.3 1905.3 282.6 1906.0 242.2 1906.7 262.9 1907.4 323.6 1908.1 411.0 1908.8 511.5 1909.5 611.6 1910.2 698.1 1910.9 757.3 1911.6 776.2 1912.3 770.2 1913.0 757.1 1913.7 740.8 1914.4 724.8 1915.1 713.0 1915.8 709.1 1916.5 722.6 1917.2 750.1 1917.9 781.0 1918.6 804.1 1919.3 808.9 1920.0 790.8 1920.7 754.8 1921.4 706.5 1922.1 651.4 1922.8 595.2 1923.5 543.4 1924.2 501.5 1924.9 475.3 1925.6 470.3 1926.3 490.0 1927.0 528.1 1927.7 576.7 1928.4 627.8 1929.1 673.6 1929.8 706.1 1930.5 717.4 1931.2 714.6 1931.9 707.9 1932.6 698.7 1933.3 688.3 1934.0 678.2 1934.7 669.6 1935.4 664.1 1936.1 662.9 1936.8 666.8 1937.5 674.5 1938.2 684.3 1938.9 694.7 1939.6 704.1 1940.3 710.8 1941.0 713.2 1941.7 710.2 1942.4 702.7 1943.1 692.0 1943.8 679.3 1944.5 666.1 1945.2 653.5 1945.9 643.0 1946.6 635.8 1947.3 633.3 1948.0 640.5 1948.7 657.8 1949.4 680.1 1950.1 702.3 1950.8 719.2 1951.5 725.8 1952.2 719.7 1952.9 704.1 1953.6 682.4 1954.3 657.7 1955.0 633.4 1955.7 612.8 1956.4 599.1 1957.1 595.9 1957.8 611.8 1958.5 644.4 1959.2 686.8 1959.9 731.9 1960.6 772.9 1961.3 802.6 1962.0 814.2 1962.7 794.9 1963.4 742.9 1964.1 667.6 1964.8 578.3 1965.5 484.2 1966.2 394.6 1966.9 318.9 1967.6 266.3 1968.3 246.2 1969.0 269.9 1969.7 330.8 1970.4 410.4 1971.1 490.5 1971.8 552.7 1972.5 578.5 1973.2 556.7 1973.9 503.0 1974.6 439.7 1975.3 389.0 1976.0 372.9 1976.7 393.2 1977.4 436.9 1978.1 494.4 1978.8 556.1 1979.5 612.5 1980.2 654.0 1980.9 671.1 1981.6 665.6 1982.3 649.9 1983.0 626.7 1983.7 599.0 1984.4 569.8 1985.1 541.8 1985.8 518.0 1986.5 501.2 1987.2 494.4 1987.9 508.2 1988.6 545.9 1989.3 596.0 1990.0 646.9 1990.7 687.0 1991.4 704.7 1992.1 699.9 1992.8 686.4 1993.5 668.4 1994.2 650.0 1994.9 635.5 1995.6 629.1 1996.3 635.9 1997.0 655.3 1997.7 681.3 1998.4 707.9 1999.1 728.9 1999.8 738.3 2000.5 728.5 2001.2 698.2 2001.9 652.9 2002.6 598.5 2003.3 540.7 2004.0 485.2 2004.7 437.6 2005.4 403.8 2006.1 389.4 2006.8 403.8 2007.5 448.8 2008.2 514.3 2008.9 590.0 2009.6 666.0 2010.3 731.9 2011.0 777.6 2011.7 793.0 2012.4 777.0 2013.1 740.8 2013.8 695.0 2014.5 649.9 2015.2 616.0 2015.9 603.9 2016.6 618.2 2017.3 651.0 2018.0 692.8 2018.7 733.9 2019.4 764.9 2020.1 776.3 2020.8 767.9 2021.5 748.0 2022.2 720.9 2022.9 691.4 2023.6 663.9 2024.3 643.1 2025.0 633.4 2025.7 641.0 2026.4 665.5 2027.1 699.1 2027.8 734.0 2028.5 762.3 2029.2 776.0 2029.9 767.5 2030.6 738.2 2031.3 695.6 2032.0 647.2 2032.7 600.5 2033.4 563.1 2034.1 542.5 2034.8 547.2 2035.5 580.2 2036.2 631.4 2036.9 690.0 2037.6 745.0 2038.3 785.9 2039.0 801.5 2039.7 792.3 2040.4 768.1 2041.1 733.7 2041.8 693.8 2042.5 653.0 2043.2 615.9 2043.9 587.2 2044.6 571.7 2045.3 572.5 2046.0 585.2 2046.7 606.0 2047.4 631.4 2048.1 657.8 2048.8 681.9 2049.5 700.0 2050.2 708.7 2050.9 708.7 2051.6 707.6 2052.3 705.6 2053.0 702.8 2053.7 699.1 2054.4 694.7 2055.1 689.5 2055.8 683.6 2056.5 676.9 2057.2 659.1 2057.9 611.9 2058.6 544.8 2059.3 468.4 2060.0 393.3 2060.7 330.1 2061.4 289.2 2062.1 281.9 2062.8 321.5 2063.5 397.9 2064.2 495.3 2064.9 597.6 2065.6 688.9 2066.3 753.4 2067.0 775.2 2067.7 771.6 2068.4 763.3 2069.1 751.9 2069.8 739.2 2070.5 726.7 2071.2 716.3 2071.9 709.6 2072.6 708.3 2073.3 714.0 2074.0 723.6 2074.7 733.7 2075.4 740.5 2076.1 735.7 2076.8 693.7 2077.5 625.5 2078.2 548.6 2078.9 480.0 2079.6 437.2 2080.3 435.7 2081.0 471.7 2081.7 532.7 2082.4 607.0 2083.1 682.6 2083.8 747.7 2084.5 790.3 2085.2 799.4 2085.9 783.3 2086.6 752.2 2087.3 712.6 2088.0 671.0 2088.7 633.9 2089.4 607.7 2090.1 598.9 2090.8 615.2 2091.5 651.6 2092.2 697.5 2092.9 742.5 2093.6 776.0 2094.3 787.6 2095.0 768.9 2095.7 726.0 2096.4 670.1 2097.1 611.8 2097.8 562.1 2098.5 531.8 2099.2 530.2 2099.9 551.1 2100.6 586.5 2101.3 629.5 2102.0 673.4 2102.7 711.1 2103.4 735.7 2104.1 740.8 2104.8 727.1 2105.5 701.9 2106.2 671.9 2106.9 643.8 2107.6 624.5 2108.3 621.1 2109.0 642.7 2109.7 682.7 2110.4 730.3 2111.1 774.8 2111.8 805.5 2112.5 811.3 2113.2 781.4 2113.9 721.6 2114.6 641.1 2115.3 549.4 2116.0 455.6 2116.7 369.3 2117.4 299.6 2118.1 256.0 2118.8 247.0 2119.5 264.7 2120.2 300.2 2120.9 347.9 2121.6 402.2 2122.3 457.8 2123.0 508.9 2123.7 550.2 2124.4 576.0 2125.1 581.8 2125.8 578.0 2126.5 571.0 2127.2 562.8 2127.9 555.0 2128.6 549.7 2129.3 551.1 2130.0 593.8 2130.7 662.8 2131.4 725.7 2132.1 750.0 2132.8 749.0 2133.5 744.0" stroke="#f00" stroke-width="6" fill="none" stroke-linejoin="round"/><path d="M303.0 671.6 303.7 686.2 304.4 698.8 305.1 709.1 305.8 717.1 306.5 722.6 307.2 725.4 307.9 725.2 308.6 720.2 309.3 710.9 310.0 698.2 310.7 683.2 311.4 666.7 312.1 649.6 312.8 633.1 313.5 617.8 314.2 605.0 314.9 595.3 315.6 589.9 316.3 590.6 317.0 603.6 317.7 627.0 318.4 656.9 319.1 689.6 319.8 721.4 320.5 748.6 321.2 767.4 321.9 774.2 322.6 770.4 323.3 760.1 324.0 744.0 324.7 722.7 325.4 697.2 326.1 668.0 326.8 636.0 327.5 601.9 328.2 566.3 328.9 530.1 329.6 494.0 330.3 458.8 331.0 425.0 331.7 393.6 332.4 365.2 333.1 340.6 333.8 320.6 334.5 305.7 335.2 296.9 335.9 295.8 336.6 333.3 337.3 412.1 338.0 517.1 338.7 632.8 339.4 744.1 340.1 835.5 340.8 891.9 341.5 900.2 342.2 876.0 342.9 832.4 343.6 778.2 344.3 722.0 345.0 672.7 345.7 638.9 346.4 629.5 347.1 648.8 347.8 688.0 348.5 736.3 349.2 782.8 349.9 816.4 350.6 826.4 351.3 807.8 352.0 767.5 352.7 713.3 353.4 653.3 354.1 595.4 354.8 547.4 355.5 517.4 356.2 512.3 356.9 525.6 357.6 550.1 358.3 580.9 359.0 612.9 359.7 641.2 360.4 660.8 361.1 666.7 361.8 655.4 362.5 629.8 363.2 594.0 363.9 552.4 364.6 509.2 365.3 468.7 366.0 435.2 366.7 413.0 367.4 406.2 368.1 418.5 368.8 446.9 369.5 486.6 370.2 532.8 370.9 580.9 371.6 626.0 372.3 663.5 373.0 688.4 373.7 696.3 374.4 694.5 375.1 690.0 375.8 683.1 376.5 674.1 377.2 663.5 377.9 651.5 378.6 638.5 379.3 624.8 380.0 610.9 380.7 596.9 381.4 583.4 382.1 570.6 382.8 558.8 383.5 548.5 384.2 539.9 384.9 533.4 385.6 529.3 386.3 528.2 387.0 554.0 387.7 611.9 388.4 685.3 389.1 757.4 389.8 811.5 390.5 830.9 391.2 818.8 391.9 788.9 392.6 746.6 393.3 697.0 394.0 645.0 394.7 596.0 395.4 555.0 396.1 527.1 396.8 517.6 397.5 542.2 398.2 599.1 398.9 671.8 399.6 743.7 400.3 798.0 401.0 818.3 401.7 802.5 402.4 765.2 403.1 717.5 403.8 670.2 404.5 634.3 405.2 620.7 405.9 635.7 406.6 672.9 407.3 723.6 408.0 779.2 408.7 831.2 409.4 870.7 410.1 889.4 410.8 874.3 411.5 820.4 412.2 740.3 412.9 646.4 413.6 551.6 414.3 468.3 415.0 409.3 415.7 387.1 416.4 418.2 417.1 498.4 417.8 610.7 418.5 738.3 419.2 864.2 419.9 971.2 420.6 1042.5 421.3 1061.0 422.0 1016.0 422.7 922.7 423.4 801.0 424.1 671.1 424.8 553.1 425.5 467.2 426.2 433.4 426.9 469.3 427.6 560.8 428.3 680.4 429.0 800.5 429.7 893.5 430.4 931.9 431.1 908.2 431.8 844.4 432.5 755.9 433.2 657.8 433.9 565.3 434.6 493.6 435.3 458.0 436.0 473.0 436.7 533.6 437.4 619.5 438.1 710.3 438.8 785.7 439.5 825.0 440.2 811.9 440.9 753.7 441.6 664.8 442.3 559.4 443.0 451.8 443.7 356.3 444.4 287.3 445.1 258.9 445.8 278.2 446.5 333.6 447.2 412.9 447.9 504.0 448.6 594.6 449.3 672.7 450.0 725.9 450.7 742.6 451.4 737.5 452.1 725.8 452.8 709.8 453.5 691.5 454.2 673.0 454.9 656.5 455.6 644.1 456.3 637.8 457.0 643.2 457.7 665.6 458.4 695.2 459.1 721.5 459.8 734.1 460.5 731.1 461.2 721.4 461.9 706.9 462.6 689.6 463.3 671.1 464.0 653.4 464.7 638.2 465.4 627.4 466.1 622.8 466.8 626.0 467.5 636.4 468.2 651.8 468.9 670.5 469.6 690.3 470.3 709.4 471.0 725.8 471.7 737.5 472.4 742.6 473.1 731.8 473.8 699.3 474.5 655.0 475.2 609.4 475.9 572.9 476.6 555.7 477.3 560.4 478.0 576.6 478.7 601.2 479.4 630.9 480.1 662.5 480.8 693.1 481.5 719.4 482.2 738.3 482.9 746.7 483.6 742.2 484.3 727.8 485.0 708.0 485.7 687.5 486.4 670.9 487.1 662.9 487.8 667.9 488.5 684.4 489.2 707.1 489.9 730.8 490.6 749.9 491.3 759.2 492.0 743.6 492.7 696.6 493.4 642.8 494.1 607.3 494.8 614.3 495.5 664.1 496.2 733.0 496.9 796.5 497.6 830.0 498.3 810.1 499.0 737.0 499.7 627.8 500.4 499.9 501.1 370.4 501.8 256.7 502.5 175.8 503.2 145.2 503.9 185.4 504.6 288.9 505.3 431.5 506.0 588.7 506.7 736.3 507.4 849.8 508.1 904.8 508.8 896.5 509.5 860.9 510.2 810.8 510.9 758.3 511.6 715.0 512.3 693.0 513.0 702.8 513.7 737.6 514.4 778.6 515.1 806.6 515.8 799.8 516.5 741.8 517.2 649.7 517.9 543.5 518.6 443.0 519.3 368.1 520.0 338.8 520.7 372.9 521.4 461.4 522.1 583.4 522.8 718.0 523.5 844.4 524.2 941.8 524.9 989.2 525.6 974.7 526.3 915.2 527.0 825.5 527.7 719.8 528.4 612.4 529.1 517.6 529.8 449.7 530.5 422.9 531.2 449.6 531.9 518.7 532.6 609.4 533.3 700.7 534.0 771.7 534.7 801.5 535.4 790.2 536.1 760.4 536.8 721.1 537.5 681.5 538.2 650.6 538.9 637.5 539.6 646.6 540.3 672.4 541.0 709.0 541.7 751.0 542.4 792.8 543.1 828.6 543.8 853.0 544.5 860.0 545.2 834.8 545.9 778.2 546.6 700.5 547.3 611.8 548.0 522.4 548.7 442.7 549.4 382.8 550.1 352.9 550.8 363.1 551.5 411.4 552.2 486.0 552.9 574.8 553.6 665.7 554.3 746.8 555.0 805.8 555.7 830.8 556.4 823.2 557.1 800.2 557.8 767.7 558.5 731.3 559.2 696.6 559.9 669.4 560.6 655.2 561.3 661.0 562.0 688.8 562.7 729.4 563.4 772.9 564.1 809.6 564.8 829.6 565.5 824.7 566.2 797.3 566.9 756.2 567.6 709.9 568.3 666.8 569.0 635.7 569.7 624.9 570.4 637.6 571.1 667.3 571.8 707.3 572.5 750.7 573.2 791.0 573.9 821.3 574.6 835.0 575.3 816.6 576.0 757.4 576.7 670.6 577.4 569.7 578.1 468.3 578.8 380.0 579.5 318.3 580.2 296.8 580.9 321.0 581.6 380.7 582.3 464.6 583.0 561.5 583.7 660.1 584.4 749.1 585.1 817.3 585.8 853.3 586.5 853.2 587.2 838.5 587.9 814.8 588.6 786.2 589.3 756.6 590.0 729.9 590.7 710.0 591.4 700.8 592.1 705.2 592.8 719.7 593.5 737.8 594.2 753.1 594.9 759.5 595.6 741.9 596.3 695.5 597.0 627.3 597.7 544.5 598.4 454.0 599.1 362.8 599.8 278.1 600.5 207.0 601.2 156.3 601.9 133.3 602.6 156.5 603.3 241.5 604.0 369.0 604.7 518.8 605.4 670.6 606.1 804.3 606.8 899.5 607.5 936.2 608.2 923.0 608.9 887.9 609.6 837.5 610.3 778.8 611.0 718.6 611.7 663.8 612.4 621.3 613.1 597.9 613.8 600.8 614.5 630.6 615.2 676.7 615.9 727.6 616.6 772.0 617.3 798.5 618.0 797.0 618.7 770.4 619.4 728.1 620.1 679.1 620.8 632.5 621.5 597.4 622.2 582.8 622.9 591.5 623.6 615.5 624.3 649.1 625.0 686.4 625.7 721.7 626.4 749.2 627.1 763.0 627.8 761.4 628.5 752.4 629.2 738.6 629.9 722.2 630.6 705.5 631.3 690.6 632.0 679.8 632.7 675.3 633.4 678.6 634.1 687.6 634.8 699.7 635.5 711.9 636.2 721.5 636.9 725.8 637.6 718.4 638.3 697.0 639.0 666.8 639.7 633.0 640.4 600.8 641.1 575.6 641.8 562.5 642.5 568.7 643.2 597.4 643.9 638.9 644.6 683.5 645.3 720.9 646.0 741.3 646.7 734.9 647.4 704.0 648.1 662.9 648.8 626.1 649.5 608.2 650.2 623.6 650.9 669.3 651.6 731.1 652.3 794.5 653.0 845.2 653.7 868.5 654.4 857.4 655.1 820.7 655.8 765.8 656.5 699.4 657.2 628.7 657.9 560.7 658.6 502.2 659.3 460.3 660.0 442.1 660.7 449.8 661.4 475.7 662.1 514.8 662.8 562.1 663.5 612.6 664.2 661.3 664.9 703.2 665.6 733.3 666.3 746.6 667.0 745.0 667.7 739.0 668.4 730.0 669.1 719.3 669.8 708.1 670.5 697.7 671.2 689.4 671.9 684.5 672.6 684.3 673.3 688.9 674.0 697.4 674.7 708.4 675.4 720.7 676.1 733.2 676.8 744.4 677.5 753.3 678.2 758.6 678.9 756.1 679.6 724.8 680.3 668.9 681.0 598.2 681.7 522.7 682.4 452.3 683.1 397.1 683.8 366.8 684.5 368.8 685.2 394.9 685.9 438.3 686.6 493.1 687.3 553.3 688.0 612.9 688.7 665.8 689.4 706.1 690.1 727.9 690.8 728.5 691.5 719.8 692.2 704.8 692.9 685.0 693.6 661.8 694.3 636.8 695.0 611.6 695.7 587.7 696.4 562.6 697.1 530.7 697.8 495.3 698.5 459.9 699.2 428.3 699.9 404.0 700.6 390.7 701.3 395.2 702.0 429.1 702.7 481.7 703.4 539.9 704.1 590.8 704.8 621.3 705.5 618.4 706.2 580.1 706.9 517.3 707.6 442.2 708.3 366.5 709.0 302.1 709.7 261.1 710.4 256.4 711.1 305.4 711.8 398.6 712.5 520.6 713.2 655.8 713.9 788.9 714.6 904.3 715.3 986.5 716.0 1020.2 716.7 1015.6 717.4 1001.1 718.1 978.0 718.8 947.3 719.5 910.5 720.2 868.7 720.9 823.1 721.6 775.0 722.3 725.6 723.0 676.0 723.7 627.6 724.4 581.5 725.1 539.0 725.8 501.3 726.5 469.7 727.2 445.2 727.9 429.2 728.6 423.0 729.3 450.6 730.0 533.2 730.7 650.6 731.4 782.3 732.1 907.9 732.8 1007.0 733.5 1059.0 734.2 1047.7 734.9 981.9 735.6 876.1 736.3 744.7 737.0 601.8 737.7 461.9 738.4 339.1 739.1 247.9 739.8 202.5 740.5 210.8 741.2 257.7 741.9 332.5 742.6 425.3 743.3 525.9 744.0 624.5 744.7 711.0 745.4 775.5 746.1 808.0 746.8 806.7 747.5 792.6 748.2 770.5 748.9 744.1 749.6 717.0 750.3 692.6 751.0 674.8 751.7 667.0 752.4 681.4 753.1 720.3 753.8 763.6 754.5 791.0 755.2 786.8 755.9 759.0 756.6 718.2 757.3 674.1 758.0 636.7 758.7 615.9 759.4 616.7 760.1 627.9 760.8 645.6 761.5 666.9 762.2 688.9 762.9 708.7 763.6 723.3 764.3 729.9 765.0 727.3 765.7 718.6 766.4 706.0 767.1 691.7 767.8 678.0 768.5 667.0 769.2 661.1 769.9 663.1 770.6 674.9 771.3 692.5 772.0 711.7 772.7 728.2 773.4 737.6 774.1 737.9 774.8 735.1 775.5 730.6 776.2 724.9 776.9 718.7 777.6 712.6 778.3 707.3 779.0 703.1 779.7 698.9 780.4 694.6 781.1 690.3 781.8 686.5 782.5 683.2 783.2 680.9 783.9 679.6 784.6 681.9 785.3 694.4 786.0 713.3 786.7 734.1 787.4 752.1 788.1 762.6 788.8 758.8 789.5 732.4 790.2 689.2 790.9 636.5 791.6 581.6 792.3 531.8 793.0 494.2 793.7 476.1 794.4 484.7 795.1 518.5 795.8 568.5 796.5 625.9 797.2 681.6 797.9 726.8 798.6 752.4 799.3 755.2 800.0 755.2 800.7 755.1 801.4 754.9 802.1 754.6 802.8 754.4 803.5 754.0 804.2 753.6 804.9 753.1 805.6 752.6 806.3 752.0 807.0 751.4 807.7 748.7 808.4 735.3 809.1 712.3 809.8 682.3 810.5 647.8 811.2 611.2 811.9 575.0 812.6 541.7 813.3 513.8 814.0 493.9 814.7 484.4 815.4 490.7 816.1 518.0 816.8 559.3 817.5 607.0 818.2 653.8 818.9 692.1 819.6 714.5 820.3 716.9 821.0 714.0 821.7 709.4 822.4 704.2 823.1 699.6 823.8 696.7 824.5 697.4 825.2 704.2 825.9 715.9 826.6 730.3 827.3 745.6 828.0 759.6 828.7 770.4 829.4 775.9 830.1 772.6 830.8 756.2 831.5 730.0 832.2 697.5 832.9 662.1 833.6 627.4 834.3 596.9 835.0 574.1 835.7 562.5 836.4 573.7 837.1 624.0 837.8 695.0 838.5 766.5 839.2 817.9 839.9 829.6 840.6 804.1 841.3 753.6 842.0 687.8 842.7 616.0 843.4 547.7 844.1 492.4 844.8 459.5 845.5 458.1 846.2 487.3 846.9 538.3 847.6 602.2 848.3 670.1 849.0 732.9 849.7 781.8 850.4 807.9 851.1 805.3 851.8 783.3 852.5 748.8 853.2 708.1 853.9 667.8 854.6 634.1 855.3 613.5 856.0 613.9 856.7 640.7 857.4 669.3 858.1 674.1 858.8 663.0 859.5 643.5 860.2 619.6 860.9 595.1 861.6 573.7 862.3 559.3 863.0 556.2 863.7 576.1 864.4 615.8 865.1 665.8 865.8 716.6 866.5 758.6 867.2 782.4 867.9 780.1 868.6 756.0 869.3 717.5 870.0 671.9 870.7 626.3 871.4 587.9 872.1 564.0 872.8 563.0 873.5 595.8 874.2 651.9 874.9 716.9 875.6 776.1 876.3 815.0 877.0 821.5 877.7 810.5 878.4 789.7 879.1 762.4 879.8 731.6 880.5 700.5 881.2 672.1 881.9 649.5 882.6 635.9 883.3 635.0 884.0 653.3 884.7 682.8 885.4 712.7 886.1 731.9 886.8 728.5 887.5 694.5 888.2 639.1 888.9 572.8 889.6 506.1 890.3 449.5 891.0 413.5 891.7 407.7 892.4 427.9 893.1 466.5 893.8 517.8 894.5 575.8 895.2 634.7 895.9 688.6 896.6 731.8 897.3 758.2 898.0 763.3 898.7 758.6 899.4 749.6 900.1 737.6 900.8 723.9 901.5 710.1 902.2 697.4 902.9 687.2 903.6 680.9 904.3 680.7 905.0 696.3 905.7 720.9 906.4 742.9 907.1 750.9 907.8 742.4 908.5 722.9 909.2 696.5 909.9 666.9 910.6 638.2 911.3 614.2 912.0 598.9 912.7 596.4 913.4 612.1 914.1 642.1 914.8 680.1 915.5 719.9 916.2 755.5 916.9 780.5 917.6 788.8 918.3 769.6 919.0 724.9 919.7 663.7 920.4 595.0 921.1 528.1 921.8 472.0 922.5 435.8 923.2 428.7 923.9 457.9 924.6 515.4 925.3 590.5 926.0 672.4 926.7 750.2 927.4 813.2 928.1 850.5 928.8 854.8 929.5 843.5 930.2 822.9 930.9 795.5 931.6 763.9 932.3 730.7 933.0 698.4 933.7 669.6 934.4 646.7 935.1 632.5 935.8 629.8 936.5 644.2 937.2 668.5 937.9 691.2 938.6 700.5 939.3 692.7 940.0 673.1 940.7 646.0 941.4 615.3 942.1 585.2 942.8 559.8 943.5 543.0 944.2 539.3 944.9 557.6 945.6 592.9 946.3 635.7 947.0 676.3 947.7 705.1 948.4 712.9 949.1 706.1 949.8 691.7 950.5 672.1 951.2 649.4 951.9 626.1 952.6 604.5 953.3 586.8 954.0 575.3 954.7 572.5 955.4 580.5 956.1 597.4 956.8 619.7 957.5 644.2 958.2 667.8 958.9 687.0 959.6 698.6 960.3 699.8 961.0 692.3 961.7 678.8 962.4 661.0 963.1 641.2 963.8 621.1 964.5 602.9 965.2 588.6 965.9 580.0 966.6 580.6 967.3 600.5 968.0 635.7 968.7 679.2 969.4 724.1 970.1 763.3 970.8 789.9 971.5 796.9 972.2 782.6 972.9 752.0 973.6 709.8 974.3 661.3 975.0 611.2 975.7 564.5 976.4 526.3 977.1 501.4 977.8 494.8 978.5 508.8 979.2 538.6 979.9 578.5 980.6 622.5 981.3 664.9 982.0 699.9 982.7 721.6 983.4 725.1 984.1 716.5 984.8 700.7 985.5 680.6 986.2 658.9 986.9 638.5 987.6 622.4 988.3 613.3 989.0 614.7 989.7 629.9 990.4 654.7 991.1 684.5 991.8 714.4 992.5 739.8 993.2 756.1 993.9 758.1 994.6 741.7 995.3 714.8 996.0 687.3 996.7 669.3 997.4 690.8 998.1 797.6 998.8 851.5 999.5 818.3 1000.2 746.5 1000.9 653.9 1001.6 558.2 1002.3 477.4 1003.0 429.2 1003.7 430.7 1004.4 480.0 1005.1 555.6 1005.8 635.2 1006.5 696.4 1007.2 717.3 1007.9 708.8 1008.6 691.5 1009.3 672.2 1010.0 657.8 1010.7 655.7 1011.4 676.5 1012.1 711.7 1012.8 748.1 1013.5 772.6 1014.2 775.0 1014.9 765.3 1015.6 748.6 1016.3 727.3 1017.0 704.3 1017.7 681.9 1018.4 663.0 1019.1 650.1 1019.8 646.0 1020.5 660.0 1021.2 691.5 1021.9 731.3 1022.6 770.3 1023.3 799.5 1024.0 809.9 1024.7 793.1 1025.4 752.4 1026.1 694.7 1026.8 626.9 1027.5 556.2 1028.2 489.4 1028.9 433.7 1029.6 395.8 1030.3 383.0 1031.0 395.4 1031.7 426.3 1032.4 470.2 1033.1 521.9 1033.8 575.9 1034.5 626.9 1035.2 669.7 1035.9 698.8 1036.6 709.0 1037.3 699.8 1038.0 676.2 1038.7 641.5 1039.4 598.9 1040.1 551.9 1040.8 503.6 1041.5 457.5 1042.2 416.8 1042.9 384.8 1043.6 364.9 1044.3 361.0 1045.0 392.3 1045.7 455.5 1046.4 537.3 1047.1 624.1 1047.8 702.6 1048.5 759.2 1049.2 780.5 1049.9 764.4 1050.6 723.0 1051.3 665.2 1052.0 599.6 1052.7 534.9 1053.4 480.0 1054.1 443.5 1054.8 434.5 1055.5 467.3 1056.2 535.3 1056.9 623.7 1057.6 717.9 1058.3 803.4 1059.0 865.6 1059.7 889.9 1060.4 870.7 1061.1 821.2 1061.8 754.5 1062.5 683.7 1063.2 621.8 1063.9 582.1 1064.6 575.6 1065.3 588.9 1066.0 613.0 1066.7 643.0 1067.4 674.1 1068.1 701.5 1068.8 720.2 1069.5 725.7 1070.2 722.2 1070.9 714.0 1071.6 701.8 1072.3 686.3 1073.0 668.2 1073.7 648.3 1074.4 627.1 1075.1 605.6 1075.8 584.3 1076.5 563.9 1077.2 545.2 1077.9 528.9 1078.6 515.7 1079.3 506.2 1080.0 501.3 1080.7 505.9 1081.4 538.6 1082.1 592.6 1082.8 657.4 1083.5 723.0 1084.2 778.8 1084.9 814.8 1085.6 821.6 1086.3 807.9 1087.0 781.5 1087.7 746.8 1088.4 708.3 1089.1 670.4 1089.8 637.4 1090.5 613.7 1091.2 603.9 1091.9 608.2 1092.6 620.9 1093.3 638.5 1094.0 657.4 1094.7 674.2 1095.4 685.4 1096.1 687.3 1096.8 678.3 1097.5 661.7 1098.2 642.0 1098.9 623.6 1099.6 611.0 1100.3 608.4 1101.0 614.3 1101.7 626.4 1102.4 643.1 1103.1 662.6 1103.8 683.5 1104.5 704.0 1105.2 722.7 1105.9 737.8 1106.6 747.8 1107.3 751.0 1108.0 747.3 1108.7 738.0 1109.4 724.5 1110.1 708.1 1110.8 689.9 1111.5 671.3 1112.2 653.5 1112.9 637.9 1113.6 625.7 1114.3 618.2 1115.0 617.0 1115.7 629.4 1116.4 653.7 1117.1 684.9 1117.8 717.9 1118.5 747.5 1119.2 768.7 1119.9 776.3 1120.6 772.2 1121.3 761.9 1122.0 747.2 1122.7 729.9 1123.4 711.8 1124.1 694.6 1124.8 680.2 1125.5 670.4 1126.2 667.0 1126.9 711.9 1127.6 790.7 1128.3 831.0 1129.0 811.3 1129.7 762.4 1130.4 695.5 1131.1 622.1 1131.8 553.5 1132.5 501.0 1133.2 476.2 1133.9 484.0 1134.6 514.3 1135.3 561.4 1136.0 619.6 1136.7 683.3 1137.4 747.0 1138.1 805.0 1138.8 851.8 1139.5 881.8 1140.2 888.9 1140.9 860.0 1141.6 799.9 1142.3 721.8 1143.0 638.4 1143.7 562.7 1144.4 507.6 1145.1 486.0 1145.8 492.6 1146.5 510.6 1147.2 536.8 1147.9 567.9 1148.6 600.7 1149.3 631.9 1150.0 658.3 1150.7 676.6 1151.4 683.7 1152.1 677.5 1152.8 659.4 1153.5 631.4 1154.2 595.6 1154.9 553.9 1155.6 508.3 1156.3 460.9 1157.0 413.6 1157.7 368.4 1158.4 327.4 1159.1 292.4 1159.8 265.6 1160.5 248.9 1161.2 244.6 1161.9 267.8 1162.6 320.3 1163.3 393.2 1164.0 477.9 1164.7 565.8 1165.4 648.2 1166.1 716.5 1166.8 762.0 1167.5 776.4 1168.2 777.2 1168.9 777.9 1169.6 778.5 1170.3 779.0 1171.0 779.5 1171.7 779.8 1172.4 780.1 1173.1 780.3 1173.8 780.5 1174.5 780.5 1175.2 777.5 1175.9 768.3 1176.6 754.3 1177.3 736.9 1178.0 717.4 1178.7 697.3 1179.4 677.9 1180.1 660.6 1180.8 646.8 1181.5 638.0 1182.2 636.3 1182.9 686.1 1183.6 761.3 1184.3 793.0 1185.0 782.1 1185.7 757.1 1186.4 722.3 1187.1 681.7 1187.8 639.5 1188.5 600.0 1189.2 567.2 1189.9 545.4 1190.6 538.7 1191.3 547.9 1192.0 569.4 1192.7 599.6 1193.4 634.7 1194.1 671.3 1194.8 705.7 1195.5 734.2 1196.2 753.3 1196.9 759.4 1197.6 755.8 1198.3 747.4 1199.0 736.1 1199.7 724.0 1200.4 712.7 1201.1 704.3 1201.8 700.6 1202.5 703.6 1203.2 713.0 1203.9 726.6 1204.6 742.4 1205.3 758.2 1206.0 771.9 1206.7 781.5 1207.4 784.6 1208.1 768.3 1208.8 729.6 1209.5 676.4 1210.2 616.6 1210.9 558.1 1211.6 508.9 1212.3 477.0 1213.0 470.2 1213.7 490.2 1214.4 530.7 1215.1 584.7 1215.8 645.2 1216.5 705.4 1217.2 758.1 1217.9 796.6 1218.6 813.8 1219.3 808.5 1220.0 790.0 1220.7 762.6 1221.4 730.8 1222.1 698.7 1222.8 670.6 1223.5 650.9 1224.2 643.8 1224.9 654.6 1225.6 678.7 1226.3 706.5 1227.0 728.0 1227.7 733.7 1228.4 721.9 1229.1 698.9 1229.8 671.1 1230.5 644.6 1231.2 625.9 1231.9 621.2 1232.6 637.0 1233.3 669.1 1234.0 710.8 1234.7 755.1 1235.4 795.1 1236.1 824.1 1236.8 835.2 1237.5 819.0 1238.2 776.3 1238.9 714.4 1239.6 641.2 1240.3 564.2 1241.0 491.0 1241.7 429.2 1242.4 386.4 1243.1 370.3 1243.8 393.0 1244.5 452.5 1245.2 534.6 1245.9 625.4 1246.6 710.7 1247.3 776.5 1248.0 808.8 1248.7 800.2 1249.4 765.5 1250.1 716.5 1250.8 664.9 1251.5 622.4 1252.2 600.5 1252.9 613.3 1253.6 663.0 1254.3 733.4 1255.0 807.7 1255.7 869.2 1256.4 901.1 1257.1 890.2 1257.8 843.9 1258.5 776.2 1259.2 700.9 1259.9 631.9 1260.6 583.2 1261.3 568.5 1262.0 594.3 1262.7 650.3 1263.4 724.2 1264.1 803.8 1264.8 876.6 1265.5 930.4 1266.2 952.9 1266.9 906.0 1267.6 777.3 1268.3 606.3 1269.0 432.6 1269.7 296.0 1270.4 236.0 1271.1 255.7 1271.8 315.2 1272.5 403.1 1273.2 508.6 1273.9 620.5 1274.6 727.7 1275.3 819.1 1276.0 883.8 1276.7 910.7 1277.4 896.9 1278.1 857.0 1278.8 803.5 1279.5 748.9 1280.2 705.6 1280.9 686.0 1281.6 693.8 1282.3 715.7 1283.0 742.2 1283.7 764.1 1284.4 772.0 1285.1 758.7 1285.8 728.3 1286.5 687.4 1287.2 643.1 1287.9 602.1 1288.6 571.4 1289.3 557.7 1290.0 562.9 1290.7 579.1 1291.4 601.0 1292.1 623.5 1292.8 641.5 1293.5 650.0 1294.2 642.5 1294.9 618.7 1295.6 584.6 1296.3 546.1 1297.0 509.2 1297.7 479.8 1298.4 464.1 1299.1 466.1 1299.8 482.0 1300.5 508.2 1301.2 541.4 1301.9 578.3 1302.6 615.7 1303.3 650.3 1304.0 678.9 1304.7 698.1 1305.4 704.8 1306.1 698.6 1306.8 683.2 1307.5 661.5 1308.2 636.4 1308.9 610.8 1309.6 587.7 1310.3 569.9 1311.0 560.4 1311.7 564.4 1312.4 588.8 1313.1 627.9 1313.8 675.4 1314.5 724.6 1315.2 769.1 1315.9 802.4 1316.6 817.9 1317.3 809.4 1318.0 777.5 1318.7 728.5 1319.4 668.9 1320.1 604.8 1320.8 542.8 1321.5 489.0 1322.2 450.0 1322.9 431.9 1323.6 439.3 1324.3 468.5 1325.0 513.6 1325.7 568.6 1326.4 627.7 1327.1 685.1 1327.8 734.9 1328.5 771.3 1329.2 788.3 1329.9 780.8 1330.6 754.6 1331.3 723.9 1332.0 703.0 1332.7 704.1 1333.4 721.2 1334.1 741.1 1334.8 751.0 1335.5 747.0 1336.2 735.8 1336.9 719.7 1337.6 700.9 1338.3 681.5 1339.0 663.9 1339.7 650.2 1340.4 642.5 1341.1 643.7 1341.8 656.1 1342.5 676.7 1343.2 701.9 1343.9 728.4 1344.6 752.6 1345.3 771.0 1346.0 780.1 1346.7 775.3 1347.4 754.4 1348.1 721.6 1348.8 681.1 1349.5 637.3 1350.2 594.6 1350.9 557.3 1351.6 529.7 1352.3 516.1 1353.0 525.1 1353.7 563.0 1354.4 617.4 1355.1 675.3 1355.8 723.7 1356.5 749.6 1357.2 749.0 1357.9 741.2 1358.6 730.9 1359.3 721.8 1360.0 717.4 1360.7 728.1 1361.4 755.7 1362.1 785.9 1362.8 804.5 1363.5 800.0 1364.2 774.3 1364.9 731.7 1365.6 675.9 1366.3 611.1 1367.0 541.1 1367.7 470.0 1368.4 401.6 1369.1 339.9 1369.8 288.9 1370.5 252.5 1371.2 234.7 1371.9 241.8 1372.6 278.9 1373.3 338.8 1374.0 413.4 1374.7 494.5 1375.4 574.2 1376.1 644.4 1376.8 697.0 1377.5 723.9 1378.2 724.2 1378.9 716.5 1379.6 703.5 1380.3 686.4 1381.0 666.4 1381.7 644.9 1382.4 622.9 1383.1 601.7 1383.8 582.6 1384.5 566.7 1385.2 555.3 1385.9 549.5 1386.6 559.9 1387.3 610.0 1388.0 684.6 1388.7 765.5 1389.4 834.7 1390.1 873.9 1390.8 870.4 1391.5 836.0 1392.2 779.4 1392.9 708.5 1393.6 631.0 1394.3 554.4 1395.0 486.7 1395.7 435.5 1396.4 408.4 1397.1 420.5 1397.8 492.1 1398.5 602.9 1399.2 729.3 1399.9 847.6 1400.6 934.2 1401.3 965.5 1402.0 933.7 1402.7 856.9 1403.4 752.8 1404.1 638.9 1404.8 533.0 1405.5 452.5 1406.2 415.3 1406.9 424.0 1407.6 456.4 1408.3 505.9 1409.0 566.2 1409.7 631.2 1410.4 694.6 1411.1 750.1 1411.8 791.7 1412.5 813.0 1413.2 817.7 1413.9 821.5 1414.6 825.0 1415.3 827.9 1416.0 830.4 1416.7 832.4 1417.4 833.9 1418.1 834.8 1418.8 835.2 1419.5 822.5 1420.2 777.1 1420.9 707.3 1421.6 622.1 1422.3 530.6 1423.0 441.8 1423.7 364.9 1424.4 308.9 1425.1 282.8 1425.8 302.2 1426.5 374.5 1427.2 481.2 1427.9 603.3 1428.6 721.7 1429.3 817.5 1430.0 871.6 1430.7 875.0 1431.4 862.0 1432.1 839.8 1432.8 811.3 1433.5 779.4 1434.2 746.8 1434.9 716.4 1435.6 691.1 1436.3 673.6 1437.0 666.9 1437.7 673.9 1438.4 692.3 1439.1 716.5 1439.8 740.9 1440.5 759.8 1441.2 767.9 1441.9 747.2 1442.6 693.8 1443.3 626.3 1444.0 563.6 1444.7 524.5 1445.4 524.0 1446.1 550.7 1446.8 595.4 1447.5 650.5 1448.2 708.2 1448.9 761.1 1449.6 801.4 1450.3 821.6 1451.0 817.2 1451.7 795.5 1452.4 762.0 1453.1 722.2 1453.8 681.6 1454.5 645.4 1455.2 619.1 1455.9 608.1 1456.6 612.0 1457.3 623.8 1458.0 641.3 1458.7 662.3 1459.4 684.6 1460.1 706.0 1460.8 724.3 1461.5 737.2 1462.2 742.6 1462.9 740.4 1463.6 733.4 1464.3 722.7 1465.0 709.6 1465.7 695.1 1466.4 680.4 1467.1 666.6 1467.8 654.8 1468.5 646.2 1469.2 641.9 1469.9 645.5 1470.6 662.4 1471.3 689.0 1472.0 720.8 1472.7 753.6 1473.4 782.9 1474.1 804.5 1474.8 814.0 1475.5 800.7 1476.2 758.9 1476.9 699.0 1477.6 631.4 1478.3 566.8 1479.0 515.5 1479.7 488.0 1480.4 495.7 1481.1 541.2 1481.8 613.3 1482.5 700.0 1483.2 789.6 1483.9 870.1 1484.6 929.8 1485.3 956.7 1486.0 943.9 1486.7 899.6 1487.4 832.4 1488.1 751.0 1488.8 663.9 1489.5 579.9 1490.2 507.4 1490.9 455.2 1491.6 431.8 1492.3 443.1 1493.0 477.5 1493.7 516.7 1494.4 542.5 1495.1 538.6 1495.8 507.3 1496.5 457.7 1497.2 399.2 1497.9 340.9 1498.6 292.1 1499.3 262.0 1500.0 262.8 1500.7 319.6 1501.4 421.6 1502.1 550.5 1502.8 688.3 1503.5 816.7 1504.2 917.7 1504.9 973.0 1505.6 970.7 1506.3 929.8 1507.0 861.4 1507.7 775.2 1508.4 680.4 1509.1 586.6 1509.8 503.2 1510.5 439.6 1511.2 405.3 1511.9 409.8 1512.6 449.2 1513.3 500.7 1514.0 540.6 1514.7 547.5 1515.4 530.6 1516.1 499.4 1516.8 459.8 1517.5 417.2 1518.2 377.3 1518.9 345.7 1519.6 328.1 1520.3 336.8 1521.0 398.5 1521.7 498.8 1522.4 618.6 1523.1 739.2 1523.8 841.3 1524.5 906.2 1525.2 916.8 1525.9 887.0 1526.6 831.4 1527.3 760.3 1528.0 683.6 1528.7 611.4 1529.4 554.0 1530.1 521.4 1530.8 523.8 1531.5 561.6 1532.2 620.9 1532.9 686.9 1533.6 745.0 1534.3 780.2 1535.0 781.8 1535.7 763.5 1536.4 734.6 1537.1 702.3 1537.8 673.9 1538.5 656.6 1539.2 654.7 1539.9 657.8 1540.6 663.5 1541.3 671.3 1542.0 680.8 1542.7 691.7 1543.4 703.4 1544.1 715.5 1544.8 727.6 1545.5 739.2 1546.2 750.0 1546.9 759.5 1547.6 767.3 1548.3 772.9 1549.0 775.9 1549.7 773.1 1550.4 750.8 1551.1 714.1 1551.8 670.9 1552.5 629.2 1553.2 597.3 1553.9 582.9 1554.6 599.1 1555.3 648.7 1556.0 719.6 1556.7 799.3 1557.4 875.4 1558.1 935.7 1558.8 967.6 1559.5 955.5 1560.2 889.8 1560.9 784.7 1561.6 656.0 1562.3 519.0 1563.0 389.4 1563.7 282.7 1564.4 214.4 1565.1 199.2 1565.8 227.3 1566.5 285.0 1567.2 364.0 1567.9 455.9 1568.6 552.3 1569.3 644.9 1570.0 725.3 1570.7 785.1 1571.4 816.0 1572.1 813.7 1572.8 791.9 1573.5 759.5 1574.2 724.2 1574.9 694.0 1575.6 676.8 1576.3 683.5 1577.0 719.3 1577.7 764.9 1578.4 799.3 1579.1 798.9 1579.8 743.5 1580.5 663.1 1581.2 595.0 1581.9 575.7 1582.6 609.1 1583.3 669.8 1584.0 734.5 1584.7 780.2 1585.4 786.7 1586.1 765.7 1586.8 727.0 1587.5 676.4 1588.2 619.5 1588.9 562.1 1589.6 510.0 1590.3 468.7 1591.0 444.1 1591.7 441.2 1592.4 456.0 1593.1 484.0 1593.8 521.8 1594.5 565.9 1595.2 612.8 1595.9 659.0 1596.6 701.0 1597.3 735.3 1598.0 759.6 1598.7 782.3 1599.4 804.6 1600.1 825.5 1600.8 843.5 1601.5 857.6 1602.2 866.4 1602.9 868.4 1603.6 851.9 1604.3 816.2 1605.0 768.5 1605.7 715.7 1606.4 664.7 1607.1 622.6 1607.8 596.4 1608.5 592.6 1609.2 608.8 1609.9 637.3 1610.6 670.5 1611.3 701.0 1612.0 721.5 1612.7 725.3 1613.4 718.8 1614.1 706.7 1614.8 691.6 1615.5 675.7 1616.2 661.5 1616.9 651.0 1617.6 641.0 1618.3 630.8 1619.0 620.8 1619.7 611.8 1620.4 604.2 1621.1 598.6 1621.8 595.7 1622.5 597.0 1623.2 606.8 1623.9 623.0 1624.6 643.0 1625.3 663.8 1626.0 682.8 1626.7 697.3 1627.4 704.5 1628.1 699.6 1628.8 679.3 1629.5 647.7 1630.2 609.5 1630.9 569.2 1631.6 531.4 1632.3 500.6 1633.0 481.6 1633.7 479.3 1634.4 502.2 1635.1 545.5 1635.8 601.3 1636.5 661.5 1637.2 718.3 1637.9 763.7 1638.6 789.8 1639.3 790.2 1640.0 770.6 1640.7 736.7 1641.4 693.2 1642.1 644.9 1642.8 596.8 1643.5 553.6 1644.2 520.1 1644.9 501.1 1645.6 501.9 1646.3 523.3 1647.0 554.7 1647.7 585.0 1648.4 602.7 1649.1 599.5 1649.8 581.6 1650.5 555.5 1651.2 527.6 1651.9 504.0 1652.6 491.1 1653.3 499.1 1654.0 538.9 1654.7 602.1 1655.4 679.5 1656.1 761.6 1656.8 839.1 1657.5 902.9 1658.2 943.4 1658.9 950.8 1659.6 910.5 1660.3 831.0 1661.0 727.2 1661.7 614.0 1662.4 506.4 1663.1 419.4 1663.8 367.7 1664.5 363.9 1665.2 397.6 1665.9 457.9 1666.6 536.1 1667.3 623.3 1668.0 710.9 1668.7 790.1 1669.4 852.2 1670.1 888.4 1670.8 892.2 1671.5 876.0 1672.2 846.7 1672.9 808.7 1673.6 766.1 1674.3 723.3 1675.0 684.5 1675.7 654.1 1676.4 636.2 1677.1 635.3 1677.8 653.3 1678.5 683.2 1679.2 717.5 1679.9 748.5 1680.6 768.5 1681.3 764.9 1682.0 711.8 1682.7 654.3 1683.4 644.3 1684.1 667.8 1684.8 707.6 1685.5 753.4 1686.2 794.8 1686.9 821.8 1687.6 822.5 1688.3 782.1 1689.0 713.6 1689.7 634.6 1690.4 562.8 1691.1 515.9 1691.8 510.3 1692.5 543.2 1693.2 602.8 1693.9 678.6 1694.6 759.7 1695.3 835.5 1696.0 895.4 1696.7 928.5 1697.4 926.6 1698.1 895.6 1698.8 842.4 1699.5 773.3 1700.2 694.7 1700.9 612.8 1701.6 534.0 1702.3 464.4 1703.0 410.5 1703.7 378.5 1704.4 373.3 1705.1 383.6 1705.8 401.4 1706.5 422.2 1707.2 441.2 1707.9 453.9 1708.6 454.2 1709.3 427.8 1710.0 384.9 1710.7 341.3 1711.4 312.9 1712.1 317.3 1712.8 366.0 1713.5 445.9 1714.2 541.9 1714.9 638.6 1715.6 720.9 1716.3 773.6 1717.0 783.2 1717.7 763.3 1718.4 726.3 1719.1 679.8 1719.8 631.3 1720.5 588.4 1721.2 558.6 1721.9 549.6 1722.6 580.3 1723.3 641.6 1724.0 709.6 1724.7 760.0 1725.4 771.2 1726.1 757.9 1726.8 733.0 1727.5 701.6 1728.2 668.7 1728.9 639.4 1729.6 618.9 1730.3 612.5 1731.0 635.2 1731.7 684.9 1732.4 747.3 1733.1 808.1 1733.8 853.3 1734.5 868.7 1735.2 850.8 1735.9 808.4 1736.6 748.6 1737.3 678.7 1738.0 605.9 1738.7 537.4 1739.4 480.3 1740.1 441.9 1740.8 429.4 1741.5 459.0 1742.2 526.9 1742.9 615.7 1743.6 708.3 1744.3 787.6 1745.0 836.2 1745.7 840.9 1746.4 819.9 1747.1 784.0 1747.8 740.2 1748.5 695.5 1749.2 656.8 1749.9 631.2 1750.6 625.6 1751.3 640.6 1752.0 669.0 1752.7 703.1 1753.4 735.3 1754.1 757.8 1754.8 763.3 1755.5 755.6 1756.2 739.9 1756.9 719.4 1757.6 697.0 1758.3 675.5 1759.0 658.1 1759.7 647.6 1760.4 648.4 1761.1 668.7 1761.8 697.9 1762.5 722.6 1763.2 729.0 1763.9 703.9 1764.6 653.2 1765.3 587.8 1766.0 518.3 1766.7 455.6 1767.4 410.4 1768.1 393.5 1768.8 411.7 1769.5 458.4 1770.2 523.7 1770.9 597.6 1771.6 670.5 1772.3 732.4 1773.0 773.4 1773.7 784.5 1774.4 777.1 1775.1 761.3 1775.8 739.6 1776.5 714.6 1777.2 688.9 1777.9 664.9 1778.6 645.3 1779.3 632.6 1780.0 629.6 1780.7 646.5 1781.4 678.4 1782.1 712.8 1782.8 737.5 1783.5 740.7 1784.2 720.0 1784.9 684.2 1785.6 642.6 1786.3 604.6 1787.0 579.4 1787.7 577.6 1788.4 613.0 1789.1 674.5 1789.8 746.1 1790.5 811.8 1791.2 855.6 1791.9 862.8 1792.6 841.2 1793.3 799.6 1794.0 743.8 1794.7 679.7 1795.4 613.0 1796.1 549.5 1796.8 495.1 1797.5 455.4 1798.2 436.4 1798.9 445.8 1799.6 485.7 1800.3 544.7 1801.0 610.8 1801.7 672.4 1802.4 717.5 1803.1 734.8 1803.8 738.7 1804.5 742.1 1805.2 744.9 1805.9 747.2 1806.6 749.0 1807.3 750.2 1808.0 750.9 1808.7 750.1 1809.4 737.1 1810.1 711.8 1810.8 678.5 1811.5 641.5 1812.2 605.0 1812.9 573.2 1813.6 550.4 1814.3 540.8 1815.0 550.8 1815.7 581.1 1816.4 625.0 1817.1 675.5 1817.8 726.1 1818.5 769.8 1819.2 800.0 1819.9 809.8 1820.6 798.4 1821.3 771.9 1822.0 735.5 1822.7 694.8 1823.4 655.1 1824.1 621.9 1824.8 600.5 1825.5 596.1 1826.2 607.7 1826.9 630.4 1827.6 659.2 1828.3 689.5 1829.0 716.7 1829.7 736.0 1830.4 742.6 1831.1 740.0 1831.8 733.5 1832.5 724.1 1833.2 712.5 1833.9 699.7 1834.6 686.6 1835.3 674.2 1836.0 663.2 1836.7 654.6 1837.4 649.3 1838.1 648.9 1838.8 667.6 1839.5 698.7 1840.2 727.2 1840.9 738.3 1841.6 720.3 1842.3 676.3 1843.0 613.4 1843.7 538.5 1844.4 458.6 1845.1 380.6 1845.8 311.5 1846.5 258.2 1847.2 227.6 1847.9 226.4 1848.6 253.3 1849.3 302.5 1850.0 367.6 1850.7 442.8 1851.4 521.8 1852.1 598.7 1852.8 667.3 1853.5 721.6 1854.2 755.4 1854.9 763.6 1855.6 762.5 1856.3 760.1 1857.0 756.6 1857.7 752.3 1858.4 747.4 1859.1 742.3 1859.8 737.1 1860.5 731.8 1861.2 724.8 1861.9 716.1 1862.6 706.2 1863.3 695.5 1864.0 684.6 1864.7 673.7 1865.4 663.5 1866.1 654.4 1866.8 646.8 1867.5 641.1 1868.2 638.0 1868.9 639.1 1869.6 654.6 1870.3 680.8 1871.0 711.0 1871.7 738.3 1872.4 756.1 1873.1 757.8 1873.8 741.7 1874.5 713.0 1875.2 677.4 1875.9 640.7 1876.6 608.6 1877.3 586.8 1878.0 581.4 1878.7 606.0 1879.4 655.2 1880.1 715.4 1880.8 773.0 1881.5 814.5 1882.2 826.4 1882.9 812.5 1883.6 783.3 1884.3 745.1 1885.0 704.3 1885.7 667.1 1886.4 639.9 1887.1 629.1 1887.8 643.5 1888.5 681.2 1889.2 730.5 1889.9 780.2 1890.6 818.9 1891.3 835.2 1892.0 815.3 1892.7 761.9 1893.4 689.3 1894.1 611.8 1894.8 543.8 1895.5 499.5 1896.2 494.2 1896.9 543.5 1897.6 634.2 1898.3 748.1 1899.0 866.7 1899.7 971.4 1900.4 1044.0 1901.1 1065.6 1901.8 1007.6 1902.5 880.5 1903.2 712.3 1903.9 531.1 1904.6 364.9 1905.3 241.7 1906.0 189.7 1906.7 216.9 1907.4 297.1 1908.1 412.3 1908.8 544.8 1909.5 676.9 1910.2 790.9 1910.9 869.1 1911.6 893.9 1912.3 877.3 1913.0 841.4 1913.7 796.4 1914.4 752.5 1915.1 720.0 1915.8 709.2 1916.5 730.5 1917.2 774.1 1917.9 822.9 1918.6 859.6 1919.3 867.5 1920.0 844.6 1920.7 799.1 1921.4 737.9 1922.1 668.2 1922.8 597.1 1923.5 531.5 1924.2 478.6 1924.9 445.4 1925.6 439.0 1926.3 463.9 1927.0 512.0 1927.7 573.4 1928.4 638.0 1929.1 695.8 1929.8 736.8 1930.5 751.0 1931.2 746.3 1931.9 735.0 1932.6 719.4 1933.3 701.8 1934.0 684.7 1934.7 670.2 1935.4 660.8 1936.1 658.8 1936.8 664.9 1937.5 677.1 1938.2 692.7 1938.9 709.2 1939.6 724.0 1940.3 734.6 1941.0 738.4 1941.7 734.5 1942.4 724.6 1943.1 710.5 1943.8 693.9 1944.5 676.5 1945.2 660.0 1945.9 646.1 1946.6 636.6 1947.3 633.3 1948.0 642.5 1948.7 664.5 1949.4 692.9 1950.1 721.2 1950.8 742.7 1951.5 751.0 1952.2 743.8 1952.9 725.2 1953.6 699.2 1954.3 669.8 1955.0 640.8 1955.7 616.2 1956.4 599.9 1957.1 596.1 1957.8 617.7 1958.5 662.3 1959.2 720.1 1959.9 781.8 1960.6 837.7 1961.3 878.3 1962.0 894.1 1962.7 872.1 1963.4 812.8 1964.1 726.9 1964.8 625.0 1965.5 517.6 1966.2 415.5 1966.9 329.1 1967.6 269.2 1968.3 246.2 1969.0 271.4 1969.7 336.1 1970.4 420.8 1971.1 506.0 1971.8 572.1 1972.5 599.6 1973.2 575.5 1973.9 516.3 1974.6 446.5 1975.3 390.7 1976.0 372.9 1976.7 394.4 1977.4 440.6 1978.1 501.3 1978.8 566.5 1979.5 626.0 1980.2 669.9 1980.9 687.9 1981.6 681.9 1982.3 664.7 1983.0 639.3 1983.7 609.0 1984.4 576.9 1985.1 546.3 1985.8 520.2 1986.5 501.9 1987.2 494.5 1987.9 509.0 1988.6 549.0 1989.3 602.1 1990.0 656.1 1990.7 698.6 1991.4 717.3 1992.1 711.7 1992.8 696.0 1993.5 674.9 1994.2 653.5 1994.9 636.6 1995.6 629.1 1996.3 639.1 1997.0 667.4 1997.7 705.5 1998.4 744.2 1999.1 775.0 1999.8 788.8 2000.5 775.9 2001.2 736.1 2001.9 676.6 2002.6 605.2 2003.3 529.3 2004.0 456.3 2004.7 393.9 2005.4 349.4 2006.1 330.5 2006.8 351.0 2007.5 414.7 2008.2 507.5 2008.9 614.8 2009.6 722.3 2010.3 815.7 2011.0 880.5 2011.7 902.3 2012.4 877.1 2013.1 820.0 2013.8 747.7 2014.5 676.5 2015.2 623.1 2015.9 603.9 2016.6 620.0 2017.3 656.8 2018.0 703.6 2018.7 749.8 2019.4 784.6 2020.1 797.3 2020.8 787.8 2021.5 764.8 2022.2 733.8 2022.9 699.9 2023.6 668.4 2024.3 644.5 2025.0 633.5 2025.7 643.2 2026.4 674.9 2027.1 718.5 2027.8 763.7 2028.5 800.2 2029.2 818.0 2029.9 806.6 2030.6 767.4 2031.3 710.3 2032.0 645.5 2032.7 583.0 2033.4 532.9 2034.1 505.3 2034.8 511.9 2035.5 557.7 2036.2 628.6 2036.9 709.9 2037.6 786.3 2038.3 842.9 2039.0 864.6 2039.7 851.5 2040.4 817.2 2041.1 768.5 2041.8 711.9 2042.5 653.9 2043.2 601.4 2043.9 560.7 2044.6 538.6 2045.3 539.5 2046.0 556.1 2046.7 583.3 2047.4 616.3 2048.1 650.8 2048.8 682.1 2049.5 705.7 2050.2 717.0 2050.9 717.0 2051.6 715.6 2052.3 713.1 2053.0 709.5 2053.7 705.0 2054.4 699.4 2055.1 692.9 2055.8 685.6 2056.5 677.3 2057.2 657.3 2057.9 606.6 2058.6 535.1 2059.3 454.1 2060.0 374.6 2060.7 307.7 2061.4 264.6 2062.1 257.1 2062.8 302.7 2063.5 390.8 2064.2 503.0 2064.9 620.9 2065.6 726.2 2066.3 800.4 2067.0 825.5 2067.7 819.4 2068.4 804.8 2069.1 784.9 2069.8 762.5 2070.5 740.7 2071.2 722.5 2071.9 710.7 2072.6 708.9 2073.3 722.9 2074.0 747.1 2074.7 772.2 2075.4 789.3 2076.1 784.8 2076.8 733.4 2077.5 650.1 2078.2 555.9 2078.9 472.1 2079.6 419.7 2080.3 417.9 2081.0 462.3 2081.7 537.6 2082.4 629.2 2083.1 722.4 2083.8 802.6 2084.5 855.1 2085.2 866.2 2085.9 842.0 2086.6 795.3 2087.3 735.9 2088.0 673.5 2088.7 617.8 2089.4 578.5 2090.1 565.4 2090.8 592.2 2091.5 652.0 2092.2 727.5 2092.9 801.5 2093.6 856.7 2094.3 875.8 2095.0 849.7 2095.7 790.3 2096.4 712.7 2097.1 631.8 2097.8 562.9 2098.5 521.0 2099.2 518.1 2099.9 542.7 2100.6 584.3 2101.3 635.0 2102.0 686.5 2102.7 730.9 2103.4 759.9 2104.1 765.8 2104.8 749.3 2105.5 718.9 2106.2 682.7 2106.9 648.8 2107.6 625.5 2108.3 621.7 2109.0 654.2 2109.7 714.2 2110.4 785.6 2111.1 852.4 2111.8 898.4 2112.5 907.5 2113.2 871.9 2113.9 800.6 2114.6 704.6 2115.3 595.2 2116.0 483.4 2116.7 380.4 2117.4 297.4 2118.1 245.4 2118.8 234.5 2119.5 253.3 2120.2 291.0 2120.9 341.6 2121.6 399.4 2122.3 458.4 2123.0 512.8 2123.7 556.6 2124.4 584.1 2125.1 590.1 2125.8 585.4 2126.5 576.7 2127.2 566.4 2127.9 556.7 2128.6 550.0 2129.3 552.3 2130.0 612.7 2130.7 710.5 2131.4 799.6 2132.1 834.0 2132.8 831.2 2133.5 820.6" stroke="#00f" stroke-width="6" fill="none" stroke-dasharray="21 21" stroke-linejoin="round"/>
</g>
<path d="M726 116H893" stroke="#f00" stroke-width="7" fill="none"/>
<path d="M726 200H872" stroke="#00f" stroke-width="7" stroke-dasharray="21 21" fill="none"/>
<text transform="translate(904.30 142.00) scale(0.9800 1.0000)" font-family="'Liberation Sans', Arial, Helvetica, sans-serif" font-size="68.10" fill="#000">MBAPSF</text>
<text transform="translate(905.00 226.70) scale(0.9740 1.0000)" font-family="'Liberation Sans', Arial, Helvetica, sans-serif" font-size="68.10" fill="#000">TSSF</text>
<text transform="translate(279.20 1195.10)" font-family="'Liberation Serif', 'Times New Roman', serif" font-size="67.20" fill="#262626" text-anchor="end">40</text>
<text transform="translate(161.70 1200.20) scale(1.2660 1.0000)" font-family="'Liberation Serif', 'Times New Roman', serif" font-size="67.20" fill="#262626">−</text>
<text transform="translate(279.20 971.16)" font-family="'Liberation Serif', 'Times New Roman', serif" font-size="67.20" fill="#262626" text-anchor="end">20</text>
<text transform="translate(161.70 976.26) scale(1.2660 1.0000)" font-family="'Liberation Serif', 'Times New Roman', serif" font-size="67.20" fill="#262626">−</text>
<text transform="translate(279.20 747.22)" font-family="'Liberation Serif', 'Times New Roman', serif" font-size="67.20" fill="#262626" text-anchor="end">0</text>
<text transform="translate(279.20 523.28)" font-family="'Liberation Serif', 'Times New Roman', serif" font-size="67.20" fill="#262626" text-anchor="end">20</text>
<text transform="translate(279.20 299.34)" font-family="'Liberation Serif', 'Times New Roman', serif" font-size="67.20" fill="#262626" text-anchor="end">40</text>
<text transform="translate(279.20 75.40)" font-family="'Liberation Serif', 'Times New Roman', serif" font-size="67.20" fill="#262626" text-anchor="end">60</text>
<text transform="translate(303.40 1260.60) scale(0.9850 1.0000)" font-family="'Liberation Serif', 'Times New Roman', serif" font-size="67.50" fill="#262626" text-anchor="middle">3000</text>
<text transform="translate(669.60 1260.60) scale(0.9850 1.0000)" font-family="'Liberation Serif', 'Times New Roman', serif" font-size="67.50" fill="#262626" text-anchor="middle">3200</text>
<text transform="translate(1035.80 1260.60) scale(0.9850 1.0000)" font-family="'Liberation Serif', 'Times New Roman', serif" font-size="67.50" fill="#262626" text-anchor="middle">3400</text>
<text transform="translate(1402.00 1260.60) scale(0.9850 1.0000)" font-family="'Liberation Serif', 'Times New Roman', serif" font-size="67.50" fill="#262626" text-anchor="middle">3600</text>
<text transform="translate(1768.20 1260.60) scale(0.9850 1.0000)" font-family="'Liberation Serif', 'Times New Roman', serif" font-size="67.50" fill="#262626" text-anchor="middle">3800</text>
<text transform="translate(2134.40 1260.60) scale(0.9850 1.0000)" font-family="'Liberation Serif', 'Times New Roman', serif" font-size="67.50" fill="#262626" text-anchor="middle">4000</text>
<text transform="translate(1105.20 1356.30) scale(0.9920 1.0000)" font-family="'Liberation Sans', Arial, Helvetica, sans-serif" font-size="68.60" fill="#262626">Time(s)</text>
<text transform="translate(128.70 1051.00) rotate(-90) scale(0.9860 1.0000)" font-family="'Liberation Sans', Arial, Helvetica, sans-serif" font-size="67.90" fill="#262626">Drift Force in Surge DOF(kN)</text>
<text transform="translate(1002.6 1466.6) scale(0.936 1)" font-family="'Liberation Serif', 'Times New Roman', serif" font-size="86" fill="#000">(<tspan font-weight="bold">a</tspan>)</text>
<text transform="translate(1115.10 1466.60) scale(1.0400 1.0000)" font-family="'Liberation Serif', 'Times New Roman', serif" font-size="89.50" fill="#000">Surge.</text>
<path d="M531.9 1596.5V2713.2M760.8 1596.5V2713.2M989.6 1596.5V2713.2M1218.5 1596.5V2713.2M1447.4 1596.5V2713.2M1676.3 1596.5V2713.2M1905.1 1596.5V2713.2M303.0 2527.1H2134.0M303.0 2341.0H2134.0M303.0 2154.8H2134.0M303.0 1968.7H2134.0M303.0 1782.6H2134.0" stroke="#dcdcdc" stroke-width="5" fill="none"/>
<path d="M303.0 2713.2v-21M303.0 1596.5v21M531.9 2713.2v-21M531.9 1596.5v21M760.8 2713.2v-21M760.8 1596.5v21M989.6 2713.2v-21M989.6 1596.5v21M1218.5 2713.2v-21M1218.5 1596.5v21M1447.4 2713.2v-21M1447.4 1596.5v21M1676.3 2713.2v-21M1676.3 1596.5v21M1905.1 2713.2v-21M1905.1 1596.5v21M2134.0 2713.2v-21M2134.0 1596.5v21M303.0 2713.2h21M2134.0 2713.2h-21M303.0 2527.1h21M2134.0 2527.1h-21M303.0 2341.0h21M2134.0 2341.0h-21M303.0 2154.8h21M2134.0 2154.8h-21M303.0 1968.7h21M2134.0 1968.7h-21M303.0 1782.6h21M2134.0 1782.6h-21M303.0 1596.5h21M2134.0 1596.5h-21" stroke="#262626" stroke-width="5" fill="none"/>
<rect x="303.0" y="1596.5" width="1831.0" height="1116.7" stroke="#262626" stroke-width="5.2" fill="none"/>
<path d="M303.0 2688.0C304.8 2685.5 309.3 2678.9 313.9 2673.2C318.5 2667.5 325.2 2656.5 330.6 2653.7C336.0 2650.9 341.8 2660.6 346.0 2656.4C350.2 2652.2 351.5 2642.8 355.7 2628.6C359.9 2614.4 366.8 2578.0 371.0 2571.5C375.2 2565.0 377.3 2581.5 380.8 2589.6C384.3 2597.7 388.4 2617.9 391.9 2620.2C395.4 2622.5 399.1 2617.4 401.6 2603.5C404.2 2589.6 405.1 2568.7 407.2 2536.7C409.3 2504.7 411.4 2442.7 414.2 2411.4C417.0 2380.1 420.6 2348.7 423.9 2348.7C427.1 2348.7 430.7 2380.1 433.7 2411.4C436.7 2442.7 439.7 2510.0 442.0 2536.7C444.3 2563.4 444.6 2568.2 447.6 2571.5C450.6 2574.8 455.9 2556.4 460.1 2556.2C464.3 2556.0 468.8 2575.7 472.7 2570.1C476.6 2564.5 480.6 2546.9 483.8 2522.8C487.0 2498.7 489.6 2447.4 492.1 2425.3C494.7 2403.2 496.5 2390.5 499.1 2390.5C501.7 2390.5 504.0 2400.9 507.5 2425.3C511.0 2449.7 516.1 2519.1 520.0 2536.7C523.9 2554.3 527.1 2534.8 531.1 2531.1C535.1 2527.4 540.0 2513.5 543.7 2514.4C547.4 2515.3 549.7 2528.1 553.4 2536.7C557.1 2545.3 561.9 2563.9 565.9 2566.0C569.9 2568.1 573.8 2563.3 577.4 2549.0C581.0 2534.7 584.0 2498.8 587.5 2480.0C591.0 2461.2 595.1 2455.6 598.5 2436.0C601.9 2416.4 605.4 2385.8 607.8 2362.3C610.2 2338.8 611.3 2308.4 613.1 2295.1C614.9 2281.8 616.3 2280.3 618.4 2282.7C620.5 2285.0 623.1 2290.0 625.5 2309.2C627.9 2328.4 630.5 2368.2 632.5 2397.7C634.5 2427.2 635.9 2466.1 637.8 2486.2C639.7 2506.2 640.3 2521.5 643.9 2518.0C647.5 2514.5 654.2 2478.6 659.1 2465.0C664.0 2451.4 667.6 2450.5 673.2 2436.6C678.8 2422.7 686.8 2384.5 692.7 2381.8C698.6 2379.2 704.8 2416.9 708.6 2420.7C712.4 2424.5 712.8 2420.4 715.7 2404.8C718.7 2389.2 723.3 2347.0 726.3 2326.9C729.2 2306.8 730.8 2287.4 733.4 2284.5C736.0 2281.6 739.2 2293.3 742.2 2309.2C745.2 2325.1 747.9 2354.6 751.1 2380.0C754.4 2405.4 757.6 2442.5 761.7 2461.4C765.8 2480.3 770.9 2479.6 775.9 2493.2C780.9 2506.8 787.1 2545.2 791.8 2542.8C796.5 2540.5 800.7 2500.3 804.2 2479.1C807.7 2457.9 810.4 2426.3 813.0 2415.4C815.6 2404.5 817.5 2412.7 820.1 2413.6C822.8 2414.5 825.4 2421.9 828.9 2420.7C832.4 2419.5 837.5 2410.1 841.3 2406.6C845.1 2403.1 848.6 2409.8 851.9 2399.5C855.1 2389.2 857.8 2359.7 860.8 2344.6C863.8 2329.5 866.6 2309.2 869.6 2309.2C872.6 2309.2 875.2 2323.4 878.5 2344.6C881.8 2365.8 885.3 2417.1 889.1 2436.6C892.9 2456.1 897.4 2447.2 901.5 2461.4C905.6 2475.6 910.1 2501.8 913.9 2521.6C917.7 2541.4 920.7 2569.7 924.5 2580.0C928.3 2590.3 932.8 2577.9 936.9 2583.5C941.0 2589.1 945.1 2605.9 949.2 2613.6C953.3 2621.3 957.2 2631.3 961.6 2629.5C966.0 2627.7 970.7 2615.4 975.8 2603.0C980.9 2590.6 987.3 2556.1 992.0 2555.0C996.7 2553.9 1000.2 2582.4 1003.9 2596.6C1007.5 2610.8 1010.2 2630.1 1013.9 2640.4C1017.5 2650.7 1021.5 2656.3 1025.8 2658.3C1030.1 2660.3 1035.0 2653.6 1039.7 2652.3C1044.4 2651.0 1047.7 2654.0 1053.7 2650.3C1059.7 2646.7 1068.6 2638.7 1075.6 2630.4C1082.6 2622.1 1089.9 2608.9 1095.5 2600.6C1101.1 2592.3 1105.8 2591.3 1109.4 2580.7C1113.1 2570.1 1113.8 2557.4 1117.4 2536.8C1121.1 2516.2 1127.0 2483.8 1131.3 2457.2C1135.6 2430.6 1140.0 2407.4 1143.3 2377.5C1146.6 2347.6 1148.5 2302.6 1151.2 2278.0C1153.9 2253.4 1155.6 2243.5 1159.2 2230.2C1162.8 2216.9 1168.6 2215.2 1173.1 2198.3C1177.6 2181.4 1182.7 2136.6 1186.0 2128.6C1189.3 2120.6 1190.6 2132.2 1193.1 2150.5C1195.6 2168.8 1198.3 2207.0 1201.0 2238.2C1203.7 2269.4 1206.0 2309.2 1209.0 2337.7C1212.0 2366.2 1214.3 2381.5 1219.0 2409.4C1223.7 2437.3 1230.9 2481.8 1236.9 2505.0C1242.9 2528.2 1249.2 2532.9 1254.8 2548.8C1260.4 2564.7 1265.4 2586.0 1270.7 2600.6C1276.0 2615.2 1281.4 2629.8 1286.7 2636.4C1292.0 2643.0 1298.0 2635.1 1302.6 2640.4C1307.2 2645.7 1310.5 2656.6 1314.5 2668.3C1318.5 2680.0 1322.5 2703.0 1326.5 2710.5C1330.5 2718.0 1326.5 2712.8 1338.4 2713.2C1473.0 2713.6 2001.4 2713.2 2134.0 2713.2" stroke="#ee1c1c" stroke-width="5" fill="none" stroke-linejoin="round"/><path d="M303.0 2710.0C305.3 2708.0 311.2 2703.9 316.7 2698.2C322.2 2692.5 329.7 2687.0 336.2 2675.9C342.7 2664.8 349.2 2643.2 355.7 2631.4C362.2 2619.6 369.2 2606.8 375.2 2604.9C381.2 2603.0 387.0 2621.8 391.9 2620.2C396.8 2618.6 400.7 2606.6 404.4 2595.2C408.1 2583.8 411.2 2563.2 414.2 2552.0C417.2 2540.8 419.7 2528.5 422.5 2528.3C425.3 2528.1 428.1 2537.6 430.9 2550.6C433.7 2563.6 436.6 2594.0 439.2 2606.3C441.8 2618.6 442.9 2624.9 446.2 2624.4C449.4 2623.9 455.2 2609.8 458.7 2603.5C462.2 2597.2 462.7 2596.1 467.1 2586.8C471.5 2577.5 479.6 2555.2 485.2 2547.8C490.8 2540.4 496.1 2537.2 500.5 2542.3C504.9 2547.4 507.9 2569.2 511.6 2578.5C515.3 2587.8 519.1 2598.9 522.8 2598.0C526.5 2597.1 530.6 2579.9 533.9 2572.9C537.1 2565.9 538.6 2556.7 542.3 2556.2C546.0 2555.7 552.6 2566.0 556.2 2570.1C559.8 2574.2 560.4 2583.7 564.0 2580.5C567.6 2577.3 574.2 2564.3 578.0 2551.0C581.8 2537.7 583.9 2517.7 586.8 2500.5C589.7 2483.3 592.1 2476.9 595.3 2448.0C598.5 2419.1 603.0 2361.8 606.0 2326.9C609.0 2292.0 611.0 2259.7 613.1 2238.5C615.2 2217.3 616.3 2201.3 618.4 2199.5C620.5 2197.7 623.1 2206.7 625.5 2227.9C627.9 2249.1 630.1 2289.8 632.5 2326.9C634.9 2364.1 636.6 2415.4 639.6 2450.8C642.6 2486.2 646.4 2528.7 650.2 2539.3C654.0 2549.9 658.8 2531.0 662.6 2514.5C666.4 2498.0 668.5 2459.1 673.2 2440.2C677.9 2421.3 685.6 2404.9 690.9 2401.3C696.2 2397.8 701.0 2418.9 705.1 2418.9C709.2 2418.9 711.6 2425.5 715.7 2401.3C719.8 2377.1 726.1 2301.6 729.9 2273.9C733.7 2246.2 735.8 2236.1 738.7 2234.9C741.6 2233.7 744.5 2248.5 747.5 2266.8C750.5 2285.1 753.4 2315.1 756.4 2344.6C759.4 2374.1 761.7 2421.3 765.2 2443.7C768.7 2466.1 773.8 2479.1 777.6 2479.1C781.4 2479.1 785.0 2463.2 788.2 2443.7C791.5 2424.2 793.9 2391.8 797.1 2362.3C800.4 2332.8 804.5 2290.4 807.7 2266.8C810.9 2243.2 813.9 2229.4 816.5 2220.8C819.1 2212.2 820.1 2210.5 823.6 2215.5C827.1 2220.5 834.0 2251.2 837.8 2250.9C841.6 2250.6 843.1 2228.1 846.6 2213.7C850.1 2199.2 854.9 2166.6 859.0 2164.2C863.1 2161.8 867.9 2185.3 871.4 2199.5C874.9 2213.7 877.2 2234.3 880.2 2249.1C883.2 2263.8 884.1 2279.2 889.1 2288.0C894.1 2296.8 905.6 2292.8 910.3 2302.2C915.0 2311.6 914.4 2325.7 917.4 2344.6C920.4 2363.5 925.0 2395.9 928.0 2415.4C931.0 2434.9 932.1 2450.8 935.1 2461.4C938.1 2472.0 941.6 2482.1 945.7 2479.1C949.8 2476.1 955.8 2466.1 959.9 2443.7C964.0 2421.3 967.5 2371.1 970.5 2344.6C973.5 2318.1 975.0 2293.3 977.6 2284.5C980.2 2275.7 983.5 2278.5 986.4 2291.5C989.3 2304.5 992.5 2336.7 995.2 2362.3C997.9 2387.9 1000.3 2424.6 1002.5 2445.0C1004.7 2465.4 1006.3 2472.3 1008.5 2485.0C1010.7 2497.7 1011.2 2514.6 1015.8 2520.9C1020.3 2527.2 1029.5 2523.9 1035.8 2522.9C1042.1 2521.9 1046.7 2515.2 1053.7 2514.9C1060.7 2514.6 1072.3 2521.2 1077.6 2520.9C1082.9 2520.6 1082.5 2523.6 1085.5 2513.0C1088.5 2502.4 1092.8 2479.8 1095.5 2457.2C1098.2 2434.6 1099.5 2404.1 1101.5 2377.5C1103.5 2350.9 1105.8 2324.5 1107.4 2297.9C1109.1 2271.3 1109.9 2238.4 1111.4 2218.2C1112.9 2198.0 1115.0 2190.2 1116.3 2176.5C1117.5 2162.8 1118.0 2149.7 1118.9 2135.8C1119.8 2121.9 1120.6 2107.5 1121.6 2093.3C1122.6 2079.1 1124.1 2065.0 1125.1 2050.8C1126.1 2036.6 1126.6 2022.5 1127.8 2008.3C1129.0 1994.1 1130.1 1979.9 1132.2 1965.8C1134.3 1951.7 1136.8 1937.2 1140.2 1923.4C1143.6 1909.6 1149.2 1896.3 1152.6 1882.7C1156.0 1869.1 1158.3 1856.1 1160.5 1841.9C1162.7 1827.7 1163.8 1811.9 1165.8 1797.7C1167.8 1783.5 1169.4 1769.3 1172.2 1756.5C1175.0 1743.7 1179.6 1720.8 1182.8 1721.0C1186.0 1721.2 1189.3 1744.3 1191.5 1757.5C1193.7 1770.7 1194.6 1785.9 1195.9 1800.0C1197.2 1814.1 1198.3 1827.8 1199.5 1841.9C1200.7 1856.0 1202.0 1869.9 1203.0 1884.4C1204.0 1898.9 1204.8 1914.5 1205.7 1928.7C1206.6 1942.9 1207.4 1955.5 1208.3 1969.4C1209.2 1983.3 1210.0 1997.5 1211.0 2011.9C1212.0 2026.4 1213.5 2041.6 1214.5 2056.1C1215.5 2070.5 1216.2 2084.7 1217.2 2098.6C1218.2 2112.5 1219.4 2122.7 1220.7 2139.3C1222.0 2155.9 1223.2 2175.2 1224.9 2198.3C1226.6 2221.4 1228.6 2251.4 1230.9 2278.0C1233.2 2304.6 1236.2 2334.4 1238.9 2357.6C1241.6 2380.8 1243.5 2394.2 1246.8 2417.4C1250.1 2440.6 1254.8 2475.1 1258.8 2497.0C1262.8 2518.9 1266.7 2534.2 1270.7 2548.8C1274.7 2563.4 1277.4 2575.6 1282.7 2584.6C1288.0 2593.6 1297.3 2594.6 1302.6 2602.6C1307.9 2610.6 1311.2 2620.1 1314.5 2632.4C1317.8 2644.7 1319.8 2663.6 1322.5 2676.2C1325.2 2688.8 1327.2 2701.8 1330.5 2708.0C1333.8 2714.2 1330.5 2712.3 1342.4 2713.2C1476.3 2714.1 2002.1 2713.2 2134.0 2713.2" stroke="#1414c8" stroke-width="5" fill="none" stroke-dasharray="22 20"/>
<path d="M1619 1690.8H1786" stroke="#e8141c" stroke-width="5" fill="none"/>
<path d="M1619 1779.7H1770" stroke="#1414c8" stroke-width="5" stroke-dasharray="22 20" fill="none"/>
<text transform="translate(1796.00 1718.60) scale(0.9850 1.0000)" font-family="'Liberation Sans', Arial, Helvetica, sans-serif" font-size="68.00" fill="#111">MBAPSF</text>
<text transform="translate(1798.30 1807.60) scale(0.9740 1.0000)" font-family="'Liberation Sans', Arial, Helvetica, sans-serif" font-size="68.00" fill="#111">TSSF</text>
<text transform="translate(277.90 2739.00)" font-family="'Liberation Sans', Arial, Helvetica, sans-serif" font-size="66.90" fill="#262626" text-anchor="end">0</text>
<text transform="translate(277.90 2552.88)" font-family="'Liberation Sans', Arial, Helvetica, sans-serif" font-size="66.90" fill="#262626" text-anchor="end">500</text>
<text transform="translate(277.90 2366.77)" font-family="'Liberation Sans', Arial, Helvetica, sans-serif" font-size="66.90" fill="#262626" text-anchor="end">1000</text>
<text transform="translate(277.90 2180.65)" font-family="'Liberation Sans', Arial, Helvetica, sans-serif" font-size="66.90" fill="#262626" text-anchor="end">1500</text>
<text transform="translate(277.90 1994.53)" font-family="'Liberation Sans', Arial, Helvetica, sans-serif" font-size="66.90" fill="#262626" text-anchor="end">2000</text>
<text transform="translate(277.90 1808.42)" font-family="'Liberation Sans', Arial, Helvetica, sans-serif" font-size="66.90" fill="#262626" text-anchor="end">2500</text>
<text transform="translate(277.90 1622.30)" font-family="'Liberation Sans', Arial, Helvetica, sans-serif" font-size="66.90" fill="#262626" text-anchor="end">3000</text>
<text transform="translate(303.00 2804.80)" font-family="'Liberation Sans', Arial, Helvetica, sans-serif" font-size="66.90" fill="#262626" text-anchor="middle">0</text>
<text transform="translate(531.88 2804.80)" font-family="'Liberation Sans', Arial, Helvetica, sans-serif" font-size="66.90" fill="#262626" text-anchor="middle">0.05</text>
<text transform="translate(760.75 2804.80)" font-family="'Liberation Sans', Arial, Helvetica, sans-serif" font-size="66.90" fill="#262626" text-anchor="middle">0.1</text>
<text transform="translate(989.63 2804.80)" font-family="'Liberation Sans', Arial, Helvetica, sans-serif" font-size="66.90" fill="#262626" text-anchor="middle">0.15</text>
<text transform="translate(1218.50 2804.80)" font-family="'Liberation Sans', Arial, Helvetica, sans-serif" font-size="66.90" fill="#262626" text-anchor="middle">0.2</text>
<text transform="translate(1447.38 2804.80)" font-family="'Liberation Sans', Arial, Helvetica, sans-serif" font-size="66.90" fill="#262626" text-anchor="middle">0.25</text>
<text transform="translate(1676.25 2804.80)" font-family="'Liberation Sans', Arial, Helvetica, sans-serif" font-size="66.90" fill="#262626" text-anchor="middle">0.3</text>
<text transform="translate(1905.12 2804.80)" font-family="'Liberation Sans', Arial, Helvetica, sans-serif" font-size="66.90" fill="#262626" text-anchor="middle">0.35</text>
<text transform="translate(2134.00 2804.80)" font-family="'Liberation Sans', Arial, Helvetica, sans-serif" font-size="66.90" fill="#262626" text-anchor="middle">0.4</text>
<text transform="translate(997.30 2892.80) scale(0.9960 1.0000)" font-family="'Liberation Sans', Arial, Helvetica, sans-serif" font-size="67.40" fill="#333">Frequency(Hz)</text>
<text transform="translate(99.2 2681.4) rotate(-90) scale(0.985 1)" font-family="'Liberation Sans', Arial, Helvetica, sans-serif" font-size="67.9" fill="#262626">Drift Force in Surge DOF(kN<tspan font-size="54" dy="-33">2</tspan><tspan font-size="67.9" dy="33">*s/Hz)</tspan></text>
<text transform="translate(908.5 3002.9) scale(0.986 1)" font-family="'Liberation Serif', 'Times New Roman', serif" font-size="86" fill="#000">(<tspan font-weight="bold">b</tspan>)</text>
<text transform="translate(1031.10 3002.90) scale(0.9950 1.0000)" font-family="'Liberation Serif', 'Times New Roman', serif" font-size="89.50" fill="#000">Surge PSD.</text>
</svg></body></html>
